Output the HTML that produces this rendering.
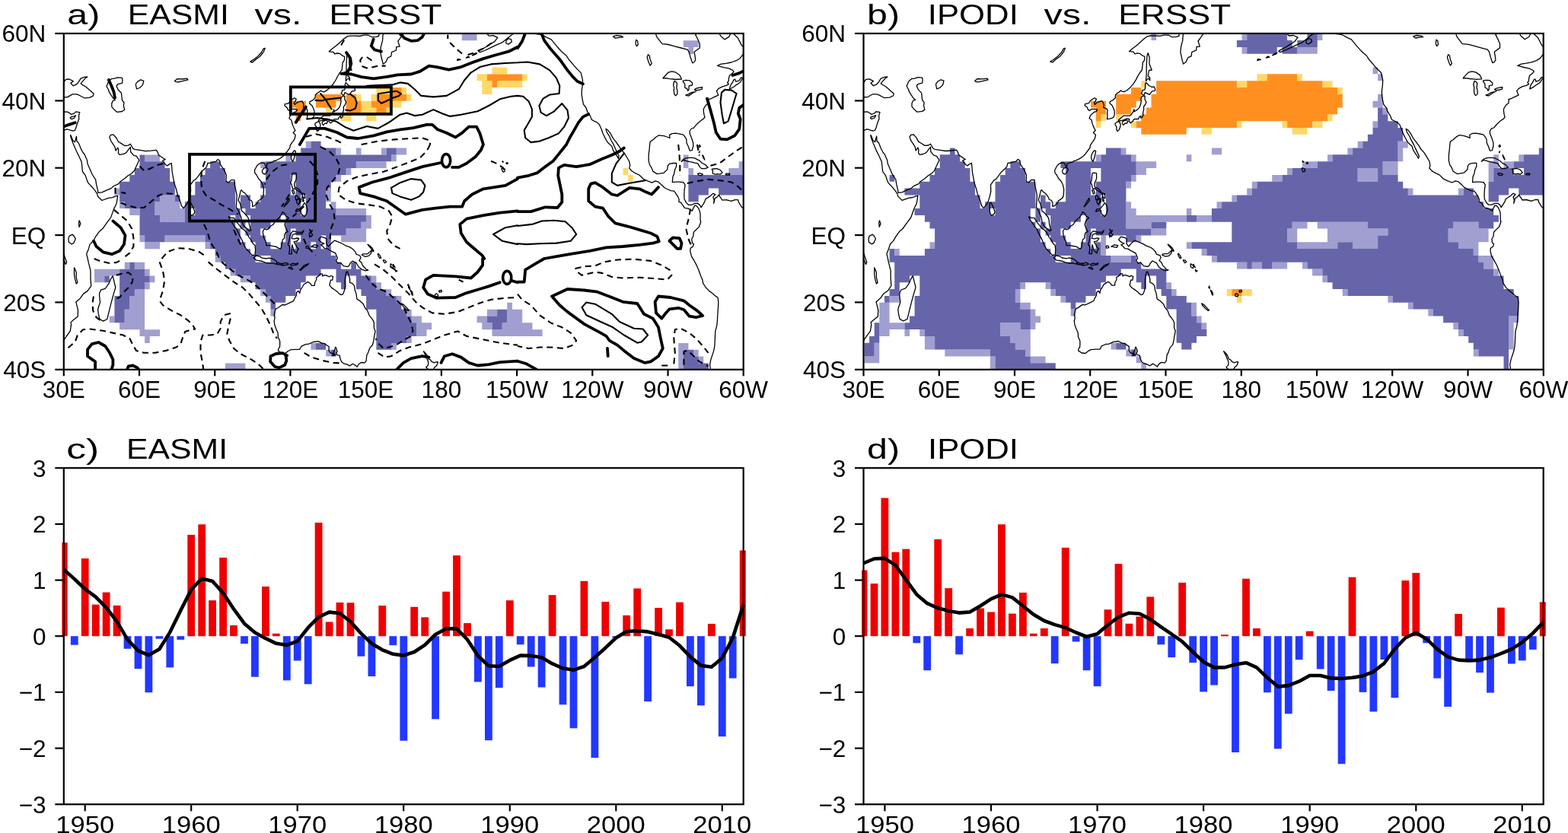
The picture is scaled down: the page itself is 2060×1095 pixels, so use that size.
<!DOCTYPE html>
<html><head><meta charset="utf-8"><title>EASMI IPODI ERSST</title><style>html,body{margin:0;padding:0;background:#fff;overflow:hidden}svg{display:block}</style></head><body>
<svg xmlns="http://www.w3.org/2000/svg" width="2060" height="1095" viewBox="0 0 2060 1095" font-family='"Liberation Sans", "DejaVu Sans", sans-serif'>
<rect width="2060" height="1095" fill="#fff"/>
<clipPath id="clipa"><rect x="83.8" y="44" width="892.9" height="441.8"/></clipPath>
<g clip-path="url(#clipa)">
<path d="M295.9 477.4H322.4V486.2H295.9ZM891.2 477.4H897.8V486.2H891.2ZM891.2 468.5H897.8V477.4H891.2ZM917.7 468.5H924.3V477.4H917.7ZM428.2 459.7H434.8V468.5H428.2ZM891.2 459.7H897.8V468.5H891.2ZM911 459.7H917.7V468.5H911ZM408.4 450.9H415V459.7H408.4ZM514.2 450.9H520.8V459.7H514.2ZM891.2 450.9H904.4V459.7H891.2ZM190.1 442H196.7V450.9H190.1ZM534.1 442H540.7V450.9H534.1ZM183.5 433.2H210V442H183.5ZM547.3 433.2H560.5V442H547.3ZM646.5 433.2H712.6V442H646.5ZM157.1 424.3H190.1V433.2H157.1ZM547.3 424.3H567.1V433.2H547.3ZM633.3 424.3H646.5V433.2H633.3ZM659.7 424.3H699.4V433.2H659.7ZM143.8 415.5H150.4V424.3H143.8ZM163.7 415.5H190.1V424.3H163.7ZM540.7 415.5H553.9V424.3H540.7ZM626.6 415.5H639.9V424.3H626.6ZM666.3 415.5H686.2V424.3H666.3ZM163.7 406.7H190.1V415.5H163.7ZM355.5 406.7H362.1V415.5H355.5ZM534.1 406.7H540.7V415.5H534.1ZM639.9 406.7H653.1V415.5H639.9ZM666.3 406.7H686.2V415.5H666.3ZM170.3 397.8H190.1V406.7H170.3ZM666.3 397.8H672.9V406.7H666.3ZM170.3 389H190.1V397.8H170.3ZM348.9 389H355.5V397.8H348.9ZM520.8 389H527.4V397.8H520.8ZM176.9 380.2H190.1V389H176.9ZM342.2 380.2H348.9V389H342.2ZM507.6 380.2H514.2V389H507.6ZM190.1 371.3H196.7V380.2H190.1ZM494.4 371.3H501V380.2H494.4ZM124 362.5H137.2V371.3H124ZM196.7 362.5H203.4V371.3H196.7ZM315.8 362.5H329V371.3H315.8ZM487.8 362.5H494.4V371.3H487.8ZM124 353.7H157.1V362.5H124ZM190.1 353.7H196.7V362.5H190.1ZM302.6 353.7H309.2V362.5H302.6ZM163.7 344.8H170.3V353.7H163.7ZM176.9 344.8H190.1V353.7H176.9ZM282.7 336H289.3V344.8H282.7ZM190.1 318.3H210V327.2H190.1ZM269.5 318.3H276.1V327.2H269.5ZM183.5 309.5H190.1V318.3H183.5ZM216.6 309.5H269.5V318.3H216.6ZM448.1 309.5H481.1V318.3H448.1ZM454.7 300.6H481.1V309.5H454.7ZM474.5 291.8H487.8V300.6H474.5ZM210 283H243V291.8H210ZM481.1 283H487.8V291.8H481.1ZM170.3 274.1H183.5V283H170.3ZM203.4 274.1H243V283H203.4ZM441.5 274.1H481.1V283H441.5ZM157.1 265.3H163.7V274.1H157.1ZM203.4 265.3H236.4V274.1H203.4ZM434.8 265.3H441.5V274.1H434.8ZM210 256.5H229.8V265.3H210ZM428.2 256.5H434.8V265.3H428.2ZM150.4 247.6H157.1V256.5H150.4ZM428.2 247.6H434.8V256.5H428.2ZM441.5 230H448.1V238.8H441.5ZM454.7 221.1H461.3V230H454.7ZM904.4 221.1H911V230H904.4ZM957.3 221.1H977.2V230H957.3ZM342.2 212.3H348.9V221.1H342.2ZM467.9 212.3H507.6V221.1H467.9ZM897.8 212.3H904.4V221.1H897.8ZM970.6 212.3H977.2V221.1H970.6ZM190.1 203.4H210V212.3H190.1ZM375.3 203.4H381.9V212.3H375.3ZM514.2 203.4H520.8V212.3H514.2ZM897.8 203.4H904.4V212.3H897.8ZM441.5 194.6H448.1V203.4H441.5ZM467.9 194.6H474.5V203.4H467.9ZM501 194.6H507.6V203.4H501ZM520.8 194.6H534.1V203.4H520.8ZM401.8 185.8H408.4V194.6H401.8ZM904.4 62.1H911V70.9H904.4ZM897.8 53.2H917.7V62.1H897.8ZM606.8 44.4H626.6V53.2H606.8Z" fill="#a09fd0"/>
<path d="M897.8 477.4H930.9V486.2H897.8ZM897.8 468.5H917.7V477.4H897.8ZM434.8 459.7H441.5V468.5H434.8ZM897.8 459.7H911V468.5H897.8ZM415 450.9H428.2V459.7H415ZM494.4 450.9H514.2V459.7H494.4ZM494.4 442H534.1V450.9H494.4ZM494.4 433.2H547.3V442H494.4ZM494.4 424.3H547.3V433.2H494.4ZM646.5 424.3H659.7V433.2H646.5ZM150.4 415.5H163.7V424.3H150.4ZM494.4 415.5H540.7V424.3H494.4ZM639.9 415.5H666.3V424.3H639.9ZM150.4 406.7H163.7V415.5H150.4ZM494.4 406.7H534.1V415.5H494.4ZM653.1 406.7H666.3V415.5H653.1ZM150.4 397.8H170.3V406.7H150.4ZM355.5 397.8H362.1V406.7H355.5ZM481.1 397.8H527.4V406.7H481.1ZM150.4 389H170.3V397.8H150.4ZM355.5 389H375.3V397.8H355.5ZM481.1 389H520.8V397.8H481.1ZM157.1 380.2H176.9V389H157.1ZM348.9 380.2H388.5V389H348.9ZM474.5 380.2H507.6V389H474.5ZM157.1 371.3H190.1V380.2H157.1ZM335.6 371.3H395.2V380.2H335.6ZM448.1 371.3H454.7V380.2H448.1ZM467.9 371.3H494.4V380.2H467.9ZM137.2 362.5H143.8V371.3H137.2ZM157.1 362.5H196.7V371.3H157.1ZM329 362.5H401.8V371.3H329ZM441.5 362.5H454.7V371.3H441.5ZM467.9 362.5H487.8V371.3H467.9ZM157.1 353.7H190.1V362.5H157.1ZM309.2 353.7H421.6V362.5H309.2ZM441.5 353.7H474.5V362.5H441.5ZM170.3 344.8H176.9V353.7H170.3ZM295.9 344.8H448.1V353.7H295.9ZM461.3 344.8H467.9V353.7H461.3ZM289.3 336H335.6V344.8H289.3ZM355.5 336H441.5V344.8H355.5ZM282.7 327.2H329V336H282.7ZM335.6 327.2H434.8V336H335.6ZM276.1 318.3H322.4V327.2H276.1ZM335.6 318.3H355.5V327.2H335.6ZM368.7 318.3H381.9V327.2H368.7ZM388.5 318.3H408.4V327.2H388.5ZM415 318.3H421.6V327.2H415ZM428.2 318.3H434.8V327.2H428.2ZM190.1 309.5H216.6V318.3H190.1ZM269.5 309.5H315.8V318.3H269.5ZM329 309.5H348.9V318.3H329ZM375.3 309.5H381.9V318.3H375.3ZM395.2 309.5H421.6V318.3H395.2ZM428.2 309.5H434.8V318.3H428.2ZM183.5 300.6H315.8V309.5H183.5ZM322.4 300.6H342.2V309.5H322.4ZM375.3 300.6H381.9V309.5H375.3ZM388.5 300.6H454.7V309.5H388.5ZM183.5 291.8H309.2V300.6H183.5ZM315.8 291.8H322.4V300.6H315.8ZM329 291.8H355.5V300.6H329ZM375.3 291.8H474.5V300.6H375.3ZM183.5 283H210V291.8H183.5ZM243 283H302.6V291.8H243ZM309.2 283H315.8V291.8H309.2ZM329 283H368.7V291.8H329ZM375.3 283H481.1V291.8H375.3ZM183.5 274.1H203.4V283H183.5ZM243 274.1H249.6V283H243ZM256.3 274.1H315.8V283H256.3ZM322.4 274.1H395.2V283H322.4ZM401.8 274.1H441.5V283H401.8ZM163.7 265.3H203.4V274.1H163.7ZM243 265.3H309.2V274.1H243ZM315.8 265.3H329V274.1H315.8ZM335.6 265.3H395.2V274.1H335.6ZM401.8 265.3H428.2V274.1H401.8ZM157.1 256.5H210V265.3H157.1ZM229.8 256.5H236.4V265.3H229.8ZM249.6 256.5H309.2V265.3H249.6ZM315.8 256.5H329V265.3H315.8ZM342.2 256.5H395.2V265.3H342.2ZM401.8 256.5H428.2V265.3H401.8ZM904.4 256.5H917.7V265.3H904.4ZM157.1 247.6H229.8V256.5H157.1ZM256.3 247.6H309.2V256.5H256.3ZM348.9 247.6H381.9V256.5H348.9ZM388.5 247.6H428.2V256.5H388.5ZM904.4 247.6H930.9V256.5H904.4ZM944.1 247.6H977.2V256.5H944.1ZM157.1 238.8H229.8V247.6H157.1ZM256.3 238.8H309.2V247.6H256.3ZM342.2 238.8H381.9V247.6H342.2ZM388.5 238.8H434.8V247.6H388.5ZM904.4 238.8H977.2V247.6H904.4ZM170.3 230H223.2V238.8H170.3ZM262.9 230H295.9V238.8H262.9ZM348.9 230H381.9V238.8H348.9ZM388.5 230H441.5V238.8H388.5ZM904.4 230H977.2V238.8H904.4ZM176.9 221.1H223.2V230H176.9ZM269.5 221.1H295.9V230H269.5ZM348.9 221.1H454.7V230H348.9ZM183.5 212.3H216.6V221.1H183.5ZM276.1 212.3H289.3V221.1H276.1ZM348.9 212.3H467.9V221.1H348.9ZM183.5 203.4H190.1V212.3H183.5ZM388.5 203.4H514.2V212.3H388.5ZM395.2 194.6H441.5V203.4H395.2ZM507.6 194.6H520.8V203.4H507.6ZM408.4 185.8H421.6V194.6H408.4Z" fill="#6665aa"/>
<path d="M825.1 230H831.7V238.8H825.1ZM818.5 221.1H825.1V230H818.5ZM448.1 150.4H461.3V159.3H448.1ZM481.1 150.4H494.4V159.3H481.1ZM428.2 141.6H434.8V150.4H428.2ZM474.5 141.6H494.4V150.4H474.5ZM507.6 141.6H514.2V150.4H507.6ZM474.5 132.8H487.8V141.6H474.5ZM514.2 132.8H527.4V141.6H514.2ZM467.9 123.9H474.5V132.8H467.9ZM487.8 123.9H494.4V132.8H487.8ZM534.1 123.9H540.7V132.8H534.1ZM494.4 115.1H514.2V123.9H494.4ZM527.4 115.1H534.1V123.9H527.4ZM633.3 115.1H646.5V123.9H633.3ZM633.3 106.3H646.5V115.1H633.3ZM653.1 106.3H686.2V115.1H653.1ZM626.6 97.4H639.9V106.3H626.6ZM686.2 97.4H692.8V106.3H686.2ZM646.5 88.6H666.3V97.4H646.5Z" fill="#ffd866"/>
<path d="M388.5 150.4H395.2V159.3H388.5ZM388.5 141.6H401.8V150.4H388.5ZM454.7 141.6H474.5V150.4H454.7ZM494.4 141.6H507.6V150.4H494.4ZM381.9 132.8H401.8V141.6H381.9ZM415 132.8H441.5V141.6H415ZM454.7 132.8H474.5V141.6H454.7ZM487.8 132.8H514.2V141.6H487.8ZM415 123.9H448.1V132.8H415ZM454.7 123.9H467.9V132.8H454.7ZM494.4 123.9H534.1V132.8H494.4ZM514.2 115.1H527.4V123.9H514.2ZM646.5 106.3H653.1V115.1H646.5ZM639.9 97.4H686.2V106.3H639.9Z" fill="#ff9020"/>
<path d="M81 147.8L86.3 146.9L89.3 147.3L91.9 149.1L93.6 150.4L97.5 149.1L99.5 146.9L102.8 147.3L104.8 147.8L103.8 150.4L103.5 153.1L103.8 156.2L102.5 159.7L101.2 163.2L100.5 165.5L99.8 168.1L98.5 171.2L95.9 172.1L91.9 171.2L90.3 170.3L87.6 169.9L84.3 171.2L81 173M91.9 154.8L93.9 156.6L97.5 155.3L99.5 151.8L96.2 153.1L93.9 153.5L91.9 154.8M77.7 127.5L81.3 127.5L88.3 127.9L95.2 123.9L100.8 123.9L104.1 125.2L110.8 128.8L117.4 128.3L122.3 126.1L123 123L118.4 119.1L112.4 113.8L108.4 111.6L106.1 109.8L109.1 106.3L111.4 103.6L114.7 101L110.8 101.4L106.1 103.2L102.5 108.9L100.8 110.7L96.2 112.9L92.9 109.3L96.2 106.7L90.9 104L86.3 104.5L83.3 109.3L79.7 113.8L77.7 117.7L77.7 127.5M142.2 107.6L146.5 103.6L150.4 103.2L154.7 101.8L160.4 102.3L161 105.4L160.4 109.3L154.7 110.7L153.1 113.3L155.1 117.7L159.4 122.2L160 127L160.4 131.4L163 135L162.3 138.9L163.7 144.2L160.4 146.5L153.7 147.3L150.1 144.2L146.8 140.3L146.8 135.9L148.5 132.3L151.4 131.4L148.8 129.2L145.8 124.8L143.2 120.4L142.2 117.3L139.9 113.3L141.2 110.7L142.2 107.6M178.2 110.7L180.9 107.1L184.8 104.9L188.8 106.3L187.5 111.6L183.5 115.5L179.5 116.9L178.2 110.7M229.1 106.7L233.1 103.6L239.7 104L245.7 103.2L247 104.9L239.7 106.7L233.1 108L229.1 106.7M328.4 81.1L331.7 82L335.6 78.4L341.6 74L346.2 68.3L348.2 63.4L346.2 63.8L343.6 68.7L338.3 74.4L332.3 78.9L328.4 81.1M82.6 449.1L87.3 442L92.2 435.4L93.6 426.6L92.9 423.9L96.2 420.8L102.2 416L102.5 407.6L101.2 402.3L99.8 397L105.8 391.7L109.4 386.4L115.1 382.4L119.7 375.8L119 365.6L119 355.9L116.4 345.7L115.1 339.5L113.7 333.8L116.4 327.2L118 321.4L122.7 316.5L125.6 311.2L130.6 304.2L134.9 300.6L140.5 292.7L145.5 286.1L149.8 274.1L153.1 267.5L154.7 257.3L151.4 258.2L147.8 259.6L142.2 260.4L133.9 263.5L128.6 258.2L127.6 254.7L125.3 251.2L121.7 246.7L116.7 241.4L115.1 239.2L112.1 230.4L108.4 225.5L107.8 218.9L107.1 212.7L103.1 203.9L100.8 199.5L98.5 194.2L96.2 188.9L92.9 180L92.6 177.4L93.9 180L95.9 184.9L98.5 186.7L99.2 183.6L100.5 179.1L100.8 185.3L103.5 188.4L106.1 195.1L109.1 200.8L111.1 203L114.4 210.5L115.1 215.4L118.4 222.9L121.3 229.5L125.6 236.1L126.6 242.3L128.3 249.4L128.9 253.4L133.9 252.9L140.5 249.8L146.1 247.6L149.4 244.5L155.4 241.9L158 238.8L163.7 234.8L168.3 230.8L172.6 228.2L176.2 224.7L178.9 218.9L182.8 210.5L179.2 205.2L175.6 204.3L171.6 199.5L171.3 193.3L168.6 196.8L165.7 200.8L161.7 202.6L157.1 203.4L155.4 201.2L155.7 196.8L154.7 194.2L153.1 196.4L152.1 198.1L150.8 192.8L148.8 189.8L145.8 185.3L143.8 180L145.5 177.4L148.8 176.9L151.8 180L153.4 182.2L155.4 186.2L159 188.4L163.7 191.5L168.6 191.1L171.3 189.3L174.6 195.1L176.9 196.4L185.5 197.7L191.1 198.6L198.4 198.1L205.3 197.3L207.3 200.4L208.3 203.9L211.3 205.7L214.9 208.3L217.2 209.6L213.6 211L215.9 214.9L219.6 218L223.2 215.4L225.2 214.5L225.8 220.2L226.2 226L227.8 234.8L229.1 241.4L231.5 248.5L232.8 254.3L234.8 259.6L237.1 265.7L238.4 270.6L241.4 273.7L243.7 270.2L246 267.5L247.3 264L249 258.7L250.6 251.6L250.3 243.2L253 239.2L254.6 237L257.3 235.7L260.6 231.3L264.5 226L268.8 222L271.5 219.4L272.8 214.5L276.8 214.1L279.4 213.2L283.7 212.3L286 209.6L288.7 211L289.3 215.8L291.6 219.4L294.6 223.8L297.3 230L296.9 238.4L300.2 240.1L303.6 236.6L307.9 236.6L308.5 243.7L309.8 249.8L311.2 256.5L310.8 265.3L310.2 272.8L311.8 274.1L314.5 280.3L316.8 285.6L317.8 291.8L320.1 296.7L323.4 299.8L327.7 303.7L329.7 302.9L327.4 294.9L327 289.6L326 286.1L323.1 282.5L320.1 279L317.8 277.7L316.8 272.8L315.5 267.5L313.1 263.1L314.5 257.8L315.5 253.8L316.1 250.7L317.4 249.8L318.8 252L321.1 253.4L323.4 255.6L325.4 258.2L327.4 262.6L330.3 263.5L331.7 267.1L331.7 271.5L333.3 271L337.9 267.5L339.3 264L342.2 262.2L345.2 259.6L346.2 255.6L346.5 248.5L344.9 242.3L342.9 238.4L339.6 234.8L337 230L334.6 226.9L334.6 223.3L336.6 219.8L337.9 217.6L340.3 215.4L342.2 214.5L344.9 214.1L347.5 214.5L348.2 216.7L349.5 219.8L350.5 218.5L350.5 215.4L353.8 214.1L357.5 213.2L360.1 211.4L362.7 211L367 208.7L371 206.1L374 203.4L375.6 201.2L378 198.1L380.6 194.6L381.3 191.1L382.6 188.9L384.9 185.8L387.2 182.2L388.2 177.4L386.2 175.6L385.2 174.3L387.9 171.6L386.6 169L384.9 165.5L383.6 161.5L382.9 157.9L379.9 155.7L381.3 152.2L383.3 150L385.9 147.8L389.2 146.5L390.5 144.2L386.6 143.4L382.9 143.4L380.3 145.6L378.3 144.2L377 141.2L374 138.9L374.3 136.7L377 136.3L379.6 135.4L380.9 132.8L384.6 130.1L386.9 128.8L389.2 130.1L387.9 133.2L386.2 135.4L387.2 137.6L389.5 135.4L391.9 134.1L396.5 132.8L397.8 134.5L399.1 138.1L398.5 141.2L401.1 142.5L403.4 143.4L403.8 146L403.4 149.5L403.8 153.5L403.1 156.6L406.4 156.2L410 155.3L412 154L413 150.4L413 146L411.7 142.5L410 138.9L406.7 135.9L407.1 133.6L410.7 131.9L414 128.8L414.3 124.8L417 122.2L419 121.3L421.3 119.1L423.3 120.4L425.6 120.8L428.9 119.1L433.2 115.5L437.5 110.7L441.5 104.5L443.4 100.5L446.1 96.1L449.1 92.1L449.7 87.3L450.1 82.4L452.4 78.9L452.7 74.4L449.7 73.1L446.4 70.5L443.1 70L439.5 70.9L438.1 68.3L432.2 67.8L436.8 63.8L441.5 60.3L447.4 55L452.4 50.6L456.3 47.9L460 47.1L466.3 47.1L472.9 47.5L477.8 46.2L483.8 46.2L488.7 48.8L494.4 48.4L497.7 47.5L498 43.5L502.6 39.1M507.6 35.6L505 42.2L503 46.2L502.6 53.2L501.6 56.8L500.3 62.1L499.7 68.7L501.6 77.5L503.3 84.2L506.9 81.5L509.6 75.8L513.9 74L514.5 68.7L520.5 66L520.8 61.6L525.1 61.2L522.8 54.1L525.5 50.6L529.1 45.3L532.4 43.5L535 42.2L547.3 44.4L553.9 40M457 69.6L455.7 74L455.3 80.6L455 88.6L455 97.4L454.4 104L454.4 106.7L456.3 104L458 103.2L459.6 105.8L459.3 101.8L457 100.1L458.3 92.6L462 92.1L458.7 84.2L459 75.8L457 69.6M454.4 108.5L453.4 110.7L453.4 115.1L452.7 118.2L449.7 118.6L449.1 121.3L448.1 122.6L450.4 124.8L452 124.8L453 121.7L456 123L459 124.4L462.3 119.9L465.6 119.5L466.6 118.2L465.3 114.2L462 114.6L458 112.4L454.7 108.9L454.4 108.5M451 126.1L453 126.6L452.7 130.1L454.7 134.5L453.4 137.6L451.4 140.3L451.4 144.7L450.4 148.2L450.7 151.8L449.4 154.4L447.7 155.3L447.4 152.6L445.4 154L444.4 156.6L442.1 156.6L439.1 156.6L437.8 157.9L436.8 159.7L434.2 161.9L431.9 159.3L432.5 156.6L428.9 156.2L425.9 157.5L422.6 158.4L418.3 159.3L418.6 157.5L421.9 154.8L424.9 152.2L429.6 152.2L433.5 152.2L434.8 150.9L437.5 146.9L438.8 143.8L438.8 146.9L443.1 144.2L445.8 141.2L447.4 137.2L448.1 132.8L447.7 129.7L449.1 127L451 126.1M422.9 161.9L424.6 164.6L427.2 161.9L429.2 162.4L430.5 159.7L428.9 157.9L425.9 158.8L423.9 159.7L422.9 161.9M414.3 161.9L418 159.7L420 161L421 164.6L420 168.5L418.3 171.6L416.7 172.5L415.7 169.9L415.7 166.8L414.3 165L413.7 162.8L414.3 161.9M382.3 207.9L383.9 211.8L384.9 212.3L386.6 207.4L387.9 201.7L388.5 199L386.9 197.7L384.9 199.9L382.9 203.4L382.3 207.9M344.2 224.7L345.2 227.7L347.5 229.1L350.2 227.3L352.2 222.9L351.2 220.7L348.5 220.7L346.5 221.1L344.2 224.7M249.3 266.6L250.6 266.2L252.6 270.2L254.3 273.7L255.9 278.6L254.9 281.2L251.6 283.4L250 281.6L249 277.2L249 271.9L249.3 266.6M148.1 362.5L150.1 370.9L151.8 378L149.8 384.6L148.5 389L145.8 399.2L143.5 408.4L140.8 419.5L135.6 422.1L130.9 419.5L129.3 412.4L128.6 406.7L129.9 402.3L131.6 397.4L130.6 389L130.6 385.5L132.6 381.1L138.2 379.3L141.5 374.9L143.5 371.8L144.8 368.2L148.1 362.5M300.2 284.7L303.9 286.5L307.5 286.5L311.5 292.7L314.5 296.2L317.4 300.2L320.4 302L324.1 305.9L327 311.7L330.3 316.1L332 319.6L335 322.7L335.6 328.5L335 335.1L331 335.5L327.4 331.1L323.4 327.2L320.1 321.4L317.8 315.2L314.8 309.5L312.8 305.5L311.2 301.5L308.2 298L305.5 293.6L302.6 290L300.2 284.7M333 339.5L336 336L340.9 336.9L344.2 339.1L350.2 340L352.8 339.1L357.5 340L360.4 341.3L363.4 343.5L363.4 347.5L359.4 346.1L353.8 346.1L348.9 345.3L344.6 343.5L340.3 342.6L337 342.2L333.6 339.5L333 339.5M363.7 345.3L366.1 345.3L367.7 346.6L366.1 348.4L364.1 346.6L363.7 345.3M368.4 346.6L370.7 346.1L370.7 348.8L368.7 348.4L368.4 346.6M371.3 347L374.7 345.3L378 346.1L379 347.5L375.3 348.4L372.3 349.2L371.3 347M381.3 347.5L384.6 346.1L388.5 347L391.5 345.7L390.9 347.9L385.2 348.8L381.6 348.4L381.3 347.5M378.6 351.9L382.6 351L384.6 354.1L381.3 353.2L378.6 351.9M393.5 355L396.8 351.9L399.1 349.2L405.7 346.6L403.4 348.8L398.5 351.9L395.2 355.4L393.5 355M347.5 300.6L349.9 302L352.8 301.1L354.2 298L358.8 295.3L362.1 290L365.4 287.4L367 286.1L369 283L371.3 278.6L374 280.8L375.6 283.9L379.3 286.5L376.3 289.2L375 291.4L374 295.3L375.3 299.3L378 304.6L375 305.9L373.7 309.5L373.7 313L371.3 315.2L370.4 319.6L369.7 324.9L368.4 327.2L364.1 325.4L363.7 324.5L358.8 323.6L354.5 322.7L349.9 322.7L349.2 317.4L346.9 313.5L345.9 309.5L345.2 304.2L347.5 300.6M379.6 333.8L380.6 327.2L380.3 324.1L378.3 321.4L379.9 316.5L381.3 309.5L382.3 306.8L384.9 303.7L390.2 305.1L396.5 305.5L399.1 302.9L396.8 307.7L392.2 307.3L387.2 307.3L383.9 309L383.3 313.5L386.9 313.9L390.2 313L392.8 313.5L390.2 317L386.2 317.9L388.9 322.3L389.9 324.9L392.2 327.2L390.5 329.8L389.9 332.9L386.2 329.8L385.2 326.7L383.9 321.9L383.3 325.4L383.3 333.8L379.6 333.8M406.4 301.1L408.4 303.7L410.4 302.9L408.4 306.8L411 308.2L409 311.2L407.7 309.5L406.7 312.1L406.1 307.3L408.1 304.6L406.4 301.1M408.4 324.5L412.7 321.9L417.6 322.7L416 325.4L411 324.5L408.4 324.5M401.8 323.6L404.7 323.2L405.7 325.8L402.4 326.3L401.8 323.6M418.3 315.2L421.6 311.2L426.6 312.6L428.9 313.9L428.9 320.5L431.5 324.1L435.8 319.2L439.8 316.1L444.1 317.9L450.1 320.5L454.7 323.2L459.6 324.9L463.3 327.2L467.3 331.6L467.9 334.2L472.9 336L473.9 339.1L471.9 342.6L474.9 345.3L476.5 349.2L478.8 351.5L481.1 354.1L483.8 355L480.1 355.9L475.2 354.1L471.2 351L468.2 345.7L463 343.1L460 346.1L458.7 349.2L456.7 350.6L451.4 349.7L447.4 345.3L443.8 346.1L441.5 342.6L443.4 339.5L440.8 332.9L434.8 329.8L430.9 327.2L426.6 326.7L424.3 324.1L421.6 321.9L425.9 320.1L422.3 318.8L419.3 316.1L418.3 315.2M475.5 334.2L479.5 333.8L482.8 333.8L486.1 331.1L488.4 328.5L487.4 333.3L484.4 336.4L480.1 337.3L475.8 335.5L475.5 334.2M482.8 321L486.4 323.6L489.1 326.3L491.1 329.8L490.1 330.7L487.8 327.2L484.4 323.2L482.8 321M496.4 332.9L499 335.5L500.7 339.1L498.7 339.5L496.7 335.5L496.4 332.9M503 341.7L505.9 342.2L507.6 344.4L505.3 345.7L503 341.7M512.9 346.6L516.9 349.7L516.2 352.8L513.2 351L512.9 346.6M516.5 347L519.2 351.9L517.2 349.7L516.5 347M518.8 354.5L521.8 356.3L520.2 357.2L518.8 354.5M537.4 375.8L538.4 379.3L536.7 378.4L537.4 375.8M539 381.1L541.7 383.7L542.3 388.1L541.3 387.7L539 381.1M527.4 398.7L530.7 400.9L534.1 404.5L537.4 408L535.7 408.4L531.7 404.9L528.4 401.4L527.4 398.7M571.4 386.8L573.7 385.9L575.7 388.1L574.7 389.9L571.8 389.4L571.4 386.8M576.7 381.9L580 381.5L580.4 383.7L577 384.1L576.7 381.9M456.3 356.8L458 361.6L459.6 366.5L459.6 371.3L463 372.7L465.6 375.8L466.3 381.5L467.9 385.9L468.9 393L472.9 395.6L477.2 399.6L479.5 404.5L482.8 408.4L485.1 414.6L489.4 419.9L491.4 423.9L491.4 431L493 435.4L491.7 442L490.7 448.6L489.4 453.5L486.1 457L485.1 459.3L483.8 463.2L481.8 467.2L481.1 474.3L479.2 476.9L474.5 476.5L471.2 478.7L469.2 482.2L465.9 479.6L463.3 478.2L459.6 480.9L456 479.1L451.4 477.8L448.7 475.6L447.1 472.1L446.1 467.2L443.1 466.8L441.8 464.1L443.1 461.9L441.8 457.9L440.8 456.2L439.8 459.3L437.8 464.1L440.8 466.8L436.8 467.6L438.1 465L434.8 464.1L433.5 463.2L431.9 460.6L432.2 455.7L428.9 453.5L426.2 451.7L422.3 450.9L418.3 448.6L411.7 449.5L405.7 452.2L401.4 452.6L395.8 455.3L393.8 459.3L388.5 459.3L381.9 459.7L378.6 461.5L374.7 464.6L370 464.1L365.4 461L366.1 457.9L367.4 456.6L367.7 453.1L367.7 448.6L365.4 442.9L365.1 437.6L362.7 432.3L360.8 427L360.1 422.1L361.1 417.7L360.1 414.2L361.4 408L362.7 405.8L365.4 404.5L371 400.5L374.3 400.9L378.3 399.2L381.9 397.4L385.6 395.6L387.6 391.2L389.2 388.6L389.5 384.6L391.9 382.4L393.8 385.5L394.5 381.5L396.8 378L399.1 374L401.8 372.2L404.7 370.4L407.7 372.7L409.4 375.3L413.3 375.3L413.7 371.3L415.7 367.8L415.7 364.7L418 363.4L421.3 359.8L423.6 360.3L423.6 362.9L426.6 361.6L429.9 362.5L432.9 363.8L434.8 362.5L437.5 363.4L436.8 368.2L434.5 368.2L432.9 374.9L435.8 378.4L440.5 381.5L443.8 384.1L445.8 386.4L448.7 387.7L450.7 386.4L452.4 381.9L453.4 375.8L453 369.1L453.7 364.3L454.7 358.1L456.3 356.8M556.2 461.5L558.9 464.1L561.5 467.6L563.2 472.1L565.5 472.9L566.8 475.2L570.4 476.9L573.7 475.6L575.4 476L573.7 480.5L571.1 482.7L570.1 484.4L567.8 488.4L564.5 493.3L562.8 491.9L564.5 488.9L562.2 485.3L559.8 482.7L562.5 480L562.8 475.6L561.5 472.9L559.2 467.2L556.2 461.5M556.2 488.4L559.8 490.2L561.5 492.8L560.5 496.4L555.5 503L550.6 499.5L552.2 494.2L554.2 490.2L556.2 488.4M383.9 227.7L385.9 227.3L389.2 227.7L389.5 233.9L388.5 237.5L387.2 239.7L386.6 243.2L387.6 246.7L389.5 246.7L392.2 248.5L395.2 252L395.5 253.8L392.8 252L390.5 250.3L387.6 248.1L384.9 248.5L383.9 246.3L383.3 243.2L381.6 239.7L382.9 237.5L383.3 232.2L383.9 227.7M383.3 249.8L385.9 250.3L386.9 254.3L385.2 255.1L383.3 249.8M388.5 256.5L391.9 258.7L390.9 262.6L388.5 262.6L388.2 258.7L388.5 256.5M389.9 262.2L392.5 261.3L393.8 264.9L391.9 269.3L389.9 266.2L389.9 262.2M393.2 260.4L395.2 261.8L395.2 265.3L393.5 267.5L393.2 260.4M396.2 253.8L400.1 254.7L400.8 260.4L398.5 260L396.2 253.8M396.5 258.7L398.5 259.6L399.1 264.9L397.8 264.9L396.5 258.7M372.7 272.4L377 268L380.3 263.5L379.6 260.4L376 266.2L372.7 272.4M388.2 278.6L389.5 275L393.2 275L395.2 273.3L397.8 270.2L400.1 266.6L402.8 270.2L403.8 276.3L402.4 281.6L399.8 284.7L395.5 280.8L395.2 276.8L391.2 277.2L388.2 278.6M682.9 40L682.9 41.7L689.5 43.5L696.1 43.1L702.7 44.4L709.3 45.3L713.6 46.6L719.2 49.7L724.2 51.9L727.5 55.9L731.8 61.2L735.4 65.2L739.1 69.1L744 73.1L747.4 78.4L751.7 83.3L755 87.3L759.6 92.1L763.2 95.6L765.5 105.4L765.2 112.4L764.2 119.5L764.2 124.4L765.2 131L766.5 137.2L770.2 142L771.5 146.5L772.5 147.8L775.8 153.1L777.1 157.1L780.8 159.3L784.1 160.6L787.4 163.7L788.4 165.9L790.3 170.3L792 175.2L795 181.4L798 186.7L800.6 189.3L803.9 192.4L805.6 197.7L808.2 201.7L811.2 206.1L812.2 208.3L813.2 205.2L811.2 201.2L808.5 195.5L806.2 190.2L802.9 184.5L800.6 179.1L797 173.4L796 169.4L798.3 170.8L801.9 175.2L805.2 181.4L808.9 186.2L812.8 191.5L815.8 196.4L820.1 201.2L823.7 207L826.7 212.3L827.7 217.6L826.7 221.1L830 224.7L834 227.3L839.9 230L845.2 235.3L850.9 237.9L856.5 240.1L860.8 237.9L864.4 238.8L869.4 243.2L873 246.7L876.3 248.5L881.3 250.7L885.6 251.2L887.9 254.3L891.2 259.6L892.2 262.6L891.9 265.3L894.5 266.2L897.8 271L899.5 273.3L904.1 274.1L909.4 277.2L910.4 274.6L912.7 270.2L915 270.6L917.3 273.3L919 276.8L920 280.8L920 287.4L920.6 292.2L918.3 298.4L915 301.5L911.4 305.1L910.7 310.8L908.7 314.3L909.4 319.2L911.4 321L910.4 324.1L907.1 326.3L906.8 330.2L907.7 333.8L908.4 336.9L911.4 341.7L915 348.4L917.7 354.5L920.6 362.5L923 368.2L923.6 372.2L926.9 377.5L931.6 382.4L935.9 385.5L939.2 388.6L943.1 391.2L943.8 397.8L943.5 404.5L942.8 413.7L942.5 419.9L941.8 427.9L939.8 435.4L939.5 442L939.2 448.6L938.8 455.3L937.8 460.6L936.2 465.9L934.5 470.7L933.5 474.3L932.5 479.6L933.2 484L932.5 490.6M980.5 278.6L973.9 271.5L970.6 266.2L969.6 262.6L965.6 262.6L960.7 264.4L954 262.6L949.1 263.1L945.8 258.7L944.5 256L942.5 258.7L939.2 260.9L938.5 264.4L937.5 267.5L938.2 263.1L936.8 259.1L939.8 255.6L936.8 254.3L933.5 257.3L930.2 259.6L926.9 261.8L925.9 264.9L923.6 268.8L921 272.8L920 270.2L917 267.5L912.7 267.5L908.4 269.3L904.4 269.3L901.8 266.6L899.1 261.8L898.8 256.5L899.1 249.8L900.1 243.2L897.8 239.7L892.9 239.2L887.9 239.2L883.3 239.7L883.6 236.6L883.9 232.2L885.6 228.6L886.6 223.3L888.6 218.5L888.6 214.5L884.6 214.5L879.3 215.4L877.3 218L876.7 222.9L872 227.3L866.4 228.2L863.1 228.6L857.8 225.1L855.8 220.2L853.5 216.7L852.2 211.4L852.2 203.4L853.2 195.5L853.5 191.1L854.2 186.2L858.1 183.6L862.1 180L865.7 177.8L869.7 178.3L872.4 178.7L876.3 180L880 181.4L879.6 177.4L882.9 175.6L887.9 175.2L892.9 176.1L897.2 176.9L899.1 178.7L901.8 183.1L902.1 188L904.4 192.8L906.1 198.1L909.1 197.7L910.7 192.4L910.7 188L909.1 182.7L906.4 176.1L906.1 172.5L908.4 169L911.4 168.1L914.7 164.1L918.7 160.2L921.6 157.9L924.3 156.2L925.9 154L924.9 150.4L924.3 146.5L924.3 143.4L926.3 139.8L927.6 138.1L930.9 135.4L930.9 130.6L934.2 129.7L937.5 127.9L943.8 125.2L942.5 122.2L941.5 119.5L944.1 116.4L949.1 113.8L954 112.4L957.3 110.7L955.7 108.5L957.3 106.3L957.3 104L958.3 99.6L962.6 96.1L964 93.9L962.3 92.1L957.3 89.9L950.7 88.6L945.8 87.3L942.5 86.4L947.4 84.2L954 83.3L960.7 82L967.3 79.7L972.2 76.7L976.5 70.9L978.8 64.3L980.5 57.7M958.3 117.3L960.7 116L964 114.2L967.3 111.6L972.2 108.5L975.9 102.3L973.9 101.8L970.6 106.3L966.6 107.1L965.6 104L964 104.9L962.3 108.5L960 111.6L958.3 117.3M979.8 99.2L982.2 101L985.5 99.2L987.1 103.2L997 99.6L992.1 90.8L987.1 86.4L983.8 81.5L979.8 84.2L980.5 90.8L979.2 95.2L979.8 99.2M861.4 40L861.4 44.4L863.1 48.8L870 57.7L878 58.5L884.6 60.3L894.5 63L903.1 65.2L905.4 68.7L907.1 75.3L909.7 82.8L911.7 82L913.7 78.9L913 73.1L912 68.3L919.3 63L919.3 57.7L916.7 51.5L913.7 45.7L917.7 42.2L919.3 40M945.1 40L945.1 44.4L947.1 47.5L952.1 51.9L957.7 48.4L959.7 44.4L960.7 40M962.3 40L963.6 44.4L969.3 49.7L972.2 55.4L974.2 59.4L977.2 62.1L982.2 65.2M805.2 47.9L810.2 46.6L816.8 47.5L818.5 48.8L813.5 49.3L808.5 50.1L805.2 47.9M835 57.7L836.6 60.7L838.3 58.5L837.6 53.7L835.7 52.4L835 57.7M638.2 40L640.2 44.8L642.2 47.1L648.1 46.6L653.8 49.3L649.8 54.6L644.8 57.7L640.2 60.7L634.9 63.8L630.6 66L628.6 67.4L630.6 68.7L636.6 66.5L643.2 63.4L651.5 59.4L659.7 55.9L666.3 50.6L672.3 45.7L676.3 43.5L677.9 40M664.7 56.8L668 58.1L672.3 55L671.6 51.9L668.3 50.6L665 53.2L664.7 56.8M620 73.1L625 71.3L626.6 69.6L623.3 70.5L620 73.1M611.8 76.2L616.7 75.3L615.1 74L611.8 76.2M600.2 79.7L605.2 78.4L601.8 77.5L600.2 79.7M894.8 212.7L897.5 209.6L901.1 207.9L904.4 207.4L909.4 207.4L912.7 207.9L916 209.6L919.3 211.4L922.6 214.5L926.9 216.7L930.2 220.2L926.3 221.6L921.6 221.6L919.3 219.4L916.7 214.9L912.7 214.1L909.4 213.2L906.1 212.7L902.8 211.8L897.8 210.5L894.8 212.7M936.2 228.2L940.2 229.1L942.5 228.6L946.4 229.1L949.1 226.9L946.1 223.3L941.8 221.6L937.5 222L935.2 222.4L936.5 224.7L936.2 228.2M916.3 228.2L919.3 227.7L923.3 229.1L921.6 230.8L918.3 230.4L916.3 228.2M953.4 228.2L958.7 228.2L958.3 230L953.7 230L953.4 228.2M917.7 191.5L919.3 190.6L920.3 192.4L918.7 193.7L917.7 191.5M918.7 201.2L919.3 199L918.3 199.9L918.7 201.2M922.6 203.4L924.3 205.7L925.9 210.1L924.3 207.9L922.6 203.4M870.7 103.2L874.7 102.7L879.6 103.6L884.6 104L887.9 104.5L895.5 104L894.5 101.8L892.9 98.7L887.9 95.2L882.9 93.9L878 95.2L873 100.5L870.7 103.2M885.9 106.3L887.9 107.6L889.6 109.8L888.9 115.1L889.9 119.5L889.9 123.5L887.6 125.7L885.9 123.9L885.3 119.5L885.6 115.1L884.6 111.6L885.9 106.3M896.8 106.3L901.1 105.4L906.1 105.8L909.7 109.3L909.4 112L905.1 112.9L905.1 117.3L903.8 119.5L902.8 116.9L899.8 115.1L899.8 110.7L896.8 106.3M900.5 125.2L904.4 126.1L907.7 123.9L911.7 121.3L914.7 119.9L912.7 120.8L907.7 121.7L904.4 123.9L900.5 125.2M912 118.2L917 118.6L922.3 117.3L922.6 114.6L917.7 115.5L914 116.4L912 118.2M854.2 86.4L856.2 83.3L854.2 78.4L853.2 73.1L851.5 71.8L850.2 75.3L851.5 79.7L853.2 84.2L854.2 86.4M90.9 310.4L95.2 308.2L97.5 310.8L99.2 313.9L96.9 319.2L94.2 321L90.3 318.3L89.9 313.9L90.9 310.4M81.7 324.1L83 330.7L85.3 338.2L87.6 344.8L86.3 347.5L83.6 340.4L81.7 333.8L81.7 324.1M97.5 351.5L100.2 358.1L100.2 364.7L101.8 371.3L100.2 373.1L98.5 366.9L97.5 360.3L97.5 351.5M104.1 289.6L105.8 294L104.1 298.4L103.5 294L104.1 289.6M659.7 211.4L661.4 212.7L660.4 213.2L659.7 211.4M665 213.6L667.3 214.1L667 215.4L665.3 215.4L665 213.6M658.7 221.1L660.4 221.1L663.4 222.4L663 225.5L660.7 226L659.7 223.8L658.7 221.1" fill="none" stroke="#000" stroke-width="1.3" stroke-linejoin="round"/>
<path d="M481.9 75L489.2 80M476.1 75L473.2 79.3L474.7 86.6L481.9 89.5L490.7 88.1L496.5 86.6L506.7 86.6M452.1 52.4L448.4 58.9L444.1 63.3M588.3 45.8L588.3 50.9M591.2 56L598.4 63.3L607.2 70.6M614.5 72L624.7 69.1M627.6 66.9L636.3 63.3L646.5 56M401.8 179.8L415 176.2L429.5 179.8L444.1 185.6L452.8 190M474.7 190L496.5 185.6L518.3 183.4L540.2 182L554.8 181.3L565 184.9L565 190M149.9 275.9L158.6 283.2L167.4 290.5L173.2 300.7L175.4 312.3L175.4 324L170.3 332.7L164.5 337.1M183.4 218.4L189.2 224.2L196.5 222L206.7 216.9L215.4 214.8M151.4 246.8L151.7 254.8M159.4 252.9L165.2 254.1M158.6 266.5L167.4 270.1L179 273L189.2 273L199.4 264.3L208.2 257L216.9 254.1L225.6 254.8L235.8 258.4M269.3 211.8L265 223.5L264.2 236.6L265 248.3L270.8 257L281 262.8L289.7 268.6L298.4 273L305.7 277.4L313 281.7M377.1 216.2L368.3 217.7L356.7 226.4L349.4 236.6L348 242.4M380 255.5L374.2 265.7L369.8 271.6M267.9 294.9L272.2 303.6L275.1 313.8L278.1 321.1L283.9 329.8L288.3 340M307.2 302.1L313 315.2L317.4 324M212.5 340L219.8 331.3L232.9 326.2L247.5 326.9L260.6 330.5L270.8 337.1M565 190L560.6 198.7L551.8 207.5L537.3 213.3L518.3 220.6L503.8 225.7L487.8 228.6L470.3 232.2L455.7 238.1L445.5 246.8L444.1 255.5L454.3 262.8L467.4 267.2L484.9 269.4L499.4 271.6L511.1 277.4L515.4 284.7L512.5 294.9L508.2 303.6L509.6 313.8L516.9 322.5L525.6 326.9M420.8 192.9L432.4 198.7L441.2 207.5L447 219.1L444.1 229.3L436.8 238.1L429.5 246.8L428.1 255.5L432.4 267.2L438.3 277.4L439.7 289L435.3 299.2L433.9 309.4L433.9 316.7M645 211.8L653.8 215.5L661.1 220.6L662.5 224.2M406.9 211.8L413.5 219.1L417.1 229.3L417.1 241L412 252.6L406.2 262.8L398.9 271.6L391.7 278.8L384.4 284.7M398.9 313.8L403.3 324L409.1 329.8L415 335.6M902.8 241L915.9 238.1L930.5 235.9L946.5 237.3L961.1 239.5L969.8 245.3L975.6 251.2M933.4 217.7L945 214.8L956.7 206L966.9 198.7L975.6 192.9M891.2 190L892.6 204.6L893.3 219.1L893.3 230.8M915.9 190L918.8 204.6M907.2 274.5L904.3 289L901.4 300.7L904.3 313.8L908.6 324M123.7 340L131 342.9L142.6 345.8L152.8 345.1L158.6 342.2M123 389.5L121.5 398.3L122.2 408.4L126.6 417.2L132.4 421.6M152.8 361.8L160.1 359.7L168.8 358.2L174.7 363.3L173.9 370.6L168.8 377.9L163 383.7L157.2 391L152.8 392.4M209.6 344.4L214 356L216.2 369.1L214 382.2L209.6 395.3L214 401.2L225.6 408.4L237.3 414.3L247.5 421.6L253.3 427.4L256.2 432.5L251.8 433.2L243.1 436.1L240.2 443.4L237.3 452.1L231.5 456.5L218.3 460.9L203.8 463.8L189.2 463.8L179 460.9L174.7 453.6L170.3 444.9L161.6 440.5L148.4 437.6L135.3 434.7L117.9 432.5L109.1 433.2L101.8 440.5L98.9 449.2L88.7 458M302.8 412.1L294.1 414.3L289.7 423L289.7 431.7L285.3 439L276.6 440.5L266.4 440.5L263.5 449.2L263.5 463.8L266.4 478.3L267.1 485.6M302.8 418.6L299.9 430.3L298.4 439L301.4 447.8L307.2 458L315.9 465.2L327.6 471.1L339.2 478.3L346.5 485.6M273.7 344.4L283.9 353.1L295.5 361.8L307.2 370.6L318.8 377.9L327.6 386.6L336.3 396.8L343.6 405.5L349.4 415.7L355.2 427.4L359.6 439L364 444.9M291.2 344.4L301.4 353.1L313 361.8L327.6 369.1L339.2 377.9L348 386.6L356.7 395.3L361.1 399.7M492.1 347.3L503.8 354.6L514 363.3L522.7 372L530 379.3L537.3 386.6L546 396.8L554.8 404.1L567.9 411.4L583.9 412.8L601.4 409.9L615.9 404.1L630.5 398.3L645 393.9L664 391.7L680 391M512.5 350.2L521.3 356M535.8 373.5L538.7 380.8M602.8 367.7L608.6 370.6M480.5 361.8L487.8 372L496.5 379.3L508.2 383.7L519.8 393.9L530 402.6L534.4 412.8L540.2 424.5L542.4 434.7L540.2 441.9L531.5 446.3L522.7 452.1L511.1 456.5L503.8 458L496.5 450.7L493.6 444.9M496.5 463.8L505.2 469.6L514 468.2L525.6 460.9L537.3 456.5L554.8 452.1L569.3 446.3L583.9 440.5L601.4 435.4L613 441.9L627.6 444.9L642.1 447.8L656.7 450.7L680 453.6M399.7 463.8L409.1 469.6L423.7 474L438.3 476.9L448.4 477.6M755.7 353.1L767.4 350.2L781.9 349.5L793.6 344.4L811.1 341.5L832.9 340.7L854.8 342.9L869.3 348.7L879.5 354.6L882.4 361.8L876.6 367.7L862 366.2L840.2 364.8L818.3 365.5L803.8 364L790.7 358.9L781.9 357.5L773.2 359.7L764.5 361.8L758.6 357.5L755.7 353.1M680 386.6L685.8 393.9L697.5 401.2L709.1 414.3L723.7 424.5L738.3 430.3L749.9 437.6L757.2 447.8L752.8 453.6L741.2 458L723.7 456.5L709.1 456.5L694.6 458L680 455M885.3 478.3L886.8 463.8L885.3 444.9L886.8 433.2L894.1 431.7L905.7 437.6L915.9 446.3L924.7 456.5L930.5 463.8M869.3 480.5L879.5 480.5M898.4 479.8L898.4 462.3L902.8 460.9L910.1 466.7L918.8 475.4L930.5 481.3" fill="none" stroke="#000" stroke-width="2.1" stroke-dasharray="8 5.5" stroke-linejoin="round"/>
<path d="M481.9 112.8L496.5 112.1L515.4 111.4L525.6 108.4L535.8 109.9L544.6 117.2L553.3 125.9L569.3 127.4L586.8 125.9L602.8 117.2L610.1 105.5L618.8 95.3L630.5 88.1L645 84.4L664 83L680 82.2M403.3 156.5L416.4 155L428.1 156.5L441.2 159.4L452.8 166.7L464.5 171.8L481.9 166L496.5 168.9L511.1 160.9L525.6 150.7L534.4 148.5L544.6 152.1L554.8 150.7L569.3 144.1L581 149.2L591.2 152.9L605.7 150.7L627.6 146.3L642.1 139L656.7 130.3L671.3 126.7L680 125.9M414.4 131.9L422.1 132.4L428 130.9L447.4 128.5M421.2 123.2L428 130.9L431.8 137.7L435.7 143.5M461 124.1L466.8 129L468.7 135.8L466.8 142.6L460 145.5L454.2 144.5M496.9 123.2L513.4 120.7L521.2 119.8L527 123.2L524.1 126.1L515.3 129L505.6 133.8L500.8 135.8L496.9 131.9L496.9 123.2M948 121.6L946.5 134.7L948.7 150.7L950.9 162.3L956.7 159.4L961.1 144.9L965.4 130.3L967.6 123L961.1 118.6L952.3 117.9L948 121.6M680 82.2L693.1 81.5L709.1 84.4L722.2 92.4L731 102.6L735.3 112.8L734.6 123L722.2 124.5L713.5 129.6L708.4 139L710.6 147.8L717.9 152.1L728.1 146.3L738.3 136.1L745.5 144.9L747 155L741.2 166.7L733.9 175.4L720.8 181.3L709.1 185.6L697.5 187.1L690.2 181.3L688.7 171.1L693.1 163.8L698.9 153.6L698.9 143.4L694.6 133.2L687.3 126.7L680 125.9M514 246.8L525.6 240.2L540.2 235.1L553.3 236.6L558.4 243.9L556.2 252.6L550.4 258.4L540.2 262.8L525.6 258.4L515.4 254.1L514 246.8M680 296.3L664 299.2L648 308L659.6 316.7L680 321.1M680 297L698.9 294.9L712 290.5L728.1 289.8L742.6 291.2L751.4 299.2L757.2 308L749.9 316.7L731 319.6L709.1 320.3L691.7 321.1L680 320.3M819.8 201.7L809.6 214.8L803.8 227.9L803.8 239.5L811.1 243.9L825.6 241L847.5 237.3M764.5 404.1L770.3 397.5L781.9 399.7L803.8 412.8L814 423L832.9 431.7L844.6 432.5L851.1 440.5L843.1 449.2L837.3 450.7L819.8 440.5L805.2 430.3L789.2 423L770.3 414.3L764.5 404.1" fill="none" stroke="#000" stroke-width="2.1" stroke-linejoin="round" stroke-linecap="round"/>
<path d="M525.6 44.4L531.5 50.2L540.2 53.8L548.9 53.1L554.8 48.7L557.7 42.9M490.7 51.7L487.8 60.4L492.1 65.5L500.9 67.7M455 69.1L460.1 76.4L461.3 83.7L459.4 90.2L455.7 95.3L449.2 97.1M448.4 96.8L461.6 97.5L474.7 101.2L490.7 103.3L506.7 101.2L522.7 98.3L540.2 97.5L551.8 93.9L563.5 86.6L573.7 88.1L589.7 91.7L605.7 88.1L620.3 82.2L634.9 77.1L652.3 72L668.3 67.7L680 61.8M393.8 190L406.2 168.9L426.6 168.9L442.6 174L455.7 180.5L470.3 182L490.7 178.3L508.2 173.3L525.6 170.3L543.1 168.2L560.6 163.8L567.9 163.8L575.1 170.3L586.8 174.7L598.4 180.5L607.2 174.7L615.9 166.7L626.1 166.7L630.5 175.4L634.9 190M401.8 140.5L388.7 160.9M680 63.3L685.8 54.6L688.7 47.3L690.2 42.9M711.3 43.6L715 53.1L723.7 64.8L735.3 77.9L745.5 92.4L752.8 101.2L758.6 107L765.9 110.2M773.2 150L765.9 153.6L760.1 160.9L754.3 171.1L748.4 181.3L744.1 190M929 129.6L933.4 144.9L937.8 160.9L940.7 174L946.5 182.7L955.2 183.4L965.4 178.3L971.3 169.6L972.7 156.5L969.8 149.2L971.3 141.9L977.1 137.6M962.5 99L971.3 96.1L977.1 93.2M142.9 105.1L146.6 113.2L149.5 120.8L151 128.5M82.2 167.1L89.8 164.1L98.6 161.2M148.4 290.5L158.6 299.2L164.5 309.4L163 321.1L157.2 329.8L147 334.2L135.3 331.3L126.6 324L123 316.7M578.8 214L554.8 219.1L532.9 226.4L511.1 233.7L489.2 239.5L471.7 246.1L473.2 254.1L490.7 258.4L508.2 264.3L522.7 274.5L532.9 281.7L554.8 275.9L572.2 273.7L591.2 271.6L607.2 271.6L610.1 264.3L620.3 255.5L634.9 248.3L649.4 246.1L664 243.9L680 235.1M594.1 219.9L602.8 219.9L613 214.8L624.7 206L631.9 197.3L634.9 190M680 277.4L656.7 279.6L634.9 283.2L613 287.6L604.3 294.9L605.7 306.5L613 318.2L624.7 328.3L633.4 335.6L636.3 340M680 233.7L694.6 230.8L706.2 227.1L716.4 219.1L726.6 211.8L732.4 204.6L738.3 197.3L744.1 190M680 278.1L697.5 278.1L716.4 272.3L732.4 273L738.3 265.7L738.3 255.5L735.3 241L733.2 230.8L733.9 220.6L741.2 216.9L757.2 219.1L774.7 216.2L790.7 208.9L803.8 203.8L814 198.7L819.8 194.4M865 246.1L856.2 255.5L848.9 252.6L840.2 248.3L827.1 246.8L811.1 257L803.8 255.5L790.7 245.3L781.9 240.2L776.1 241.7L773.2 248.3L773.2 264.3L781.9 271.6L792.1 273.7L799.4 284.7L808.2 293.4L825.6 297.8L840.2 302.1L854.8 306.5L863.5 310.9L865.7 317.4L857.7 319.6L840.2 321.8L818.3 324L796.5 325.4L774.7 329.8L752.8 333.4L731 337.1L715 340M879.5 316.7L883.9 312.3L892.6 313.1L895.5 319.6L894.1 326.9L889.7 326.9L883.9 321.1L879.5 316.7M125.1 485.6L125.1 475.4L115 468.2L115 459.4L120.8 452.1L129.5 450L138.3 455L144.1 463.8L148.4 472.5L148.4 479.8L146.3 485.6M166.7 486.4L168.8 481.3L174.7 480.5L180.5 483.4L183.4 487.1M377.1 467.4L371.3 464.1L362.5 465L355.5 468.2L355.2 475.4L361.1 482L366.9 483.4L374.2 479.8L376.4 474L375.6 468.2M634.1 340L634.1 348.7L627.6 357.5L618.8 365.5L598.4 363.3L569.3 361.8L559.1 367.7L556.2 377.9L562 386.6L573.7 391.7L598.4 391L613 385.1L627.6 380.8L642.1 376.4L656.7 371.3M672.7 369.1L680 371.3M521.3 485.6L530 476.9L540.2 471.1L554.8 468.2L563.5 469.6M579.5 476.9L583.9 468.2L594.1 465.2L605.7 469.6L615.9 476.9L627.6 480.5L642.1 479.1L656.7 476.2L680 474.7M715 340L704.8 345.8L690.2 354.6L688.7 370.6L680 370.6M725.1 389.5L745.5 380L767.4 381.5L784.9 383.7L803.8 391L818.3 396.8L837.3 399L846 412.8L857.7 418.6L865 430.3L867.9 444.9L870.8 458L865 468.2L854.8 475.4L847.5 476.9L832.9 471.1L819.8 460.9L811.1 453.6L800.9 447.8L796.5 441.9L789.2 437.6L767.4 425.9L745.5 409.9L735.3 401.2L725.1 389.5M869.3 418.6L862 411.4L860.6 396.8L865 389.5L881 391L898.4 395.3L905.7 401.2L915.9 408.4L923.2 415L914.5 417.2L905.7 415.7L898.4 407L891.2 404.8L879.5 406.3L873.7 412.8L869.3 418.6M798 458L798.7 468.2M680 474.7L691.7 478.3L704.8 485.6" fill="none" stroke="#000" stroke-width="3.8" stroke-linejoin="round" stroke-linecap="round"/>
<ellipse cx="586.1" cy="211.1" rx="5.6" ry="8.6" fill="none" stroke="#000" stroke-width="3.6"/>
<ellipse cx="666.2" cy="364.8" rx="5.6" ry="8.6" fill="none" stroke="#000" stroke-width="3.6"/>
<rect x="381.8" y="114.4" width="132.1" height="35.5" fill="none" stroke="#000" stroke-width="3.8"/>
<rect x="249" y="202.8" width="165.2" height="87.7" fill="none" stroke="#000" stroke-width="3.8"/>
</g>
<rect x="83.8" y="44" width="892.9" height="441.8" fill="none" stroke="#000" stroke-width="2.2"/>
<line x1="72.3" y1="44" x2="83.8" y2="44" stroke="#000" stroke-width="2.2"/>
<text x="60.3" y="55.4" font-size="31.5" text-anchor="end">60N</text>
<line x1="72.3" y1="132.4" x2="83.8" y2="132.4" stroke="#000" stroke-width="2.2"/>
<text x="60.3" y="143.8" font-size="31.5" text-anchor="end">40N</text>
<line x1="72.3" y1="220.7" x2="83.8" y2="220.7" stroke="#000" stroke-width="2.2"/>
<text x="60.3" y="232.1" font-size="31.5" text-anchor="end">20N</text>
<line x1="72.3" y1="309.1" x2="83.8" y2="309.1" stroke="#000" stroke-width="2.2"/>
<text x="60.3" y="320.5" font-size="31.5" text-anchor="end">EQ</text>
<line x1="72.3" y1="397.4" x2="83.8" y2="397.4" stroke="#000" stroke-width="2.2"/>
<text x="60.3" y="408.8" font-size="31.5" text-anchor="end">20S</text>
<line x1="72.3" y1="485.8" x2="83.8" y2="485.8" stroke="#000" stroke-width="2.2"/>
<text x="60.3" y="497.2" font-size="31.5" text-anchor="end">40S</text>
<line x1="83.8" y1="485.8" x2="83.8" y2="494.3" stroke="#000" stroke-width="2.2"/>
<text x="83.8" y="522.8" font-size="31.5" text-anchor="middle">30E</text>
<line x1="183" y1="485.8" x2="183" y2="494.3" stroke="#000" stroke-width="2.2"/>
<text x="183" y="522.8" font-size="31.5" text-anchor="middle">60E</text>
<line x1="282.2" y1="485.8" x2="282.2" y2="494.3" stroke="#000" stroke-width="2.2"/>
<text x="282.2" y="522.8" font-size="31.5" text-anchor="middle">90E</text>
<line x1="381.4" y1="485.8" x2="381.4" y2="494.3" stroke="#000" stroke-width="2.2"/>
<text x="381.4" y="522.8" font-size="31.5" text-anchor="middle">120E</text>
<line x1="480.6" y1="485.8" x2="480.6" y2="494.3" stroke="#000" stroke-width="2.2"/>
<text x="480.6" y="522.8" font-size="31.5" text-anchor="middle">150E</text>
<line x1="579.9" y1="485.8" x2="579.9" y2="494.3" stroke="#000" stroke-width="2.2"/>
<text x="579.9" y="522.8" font-size="31.5" text-anchor="middle">180</text>
<line x1="679.1" y1="485.8" x2="679.1" y2="494.3" stroke="#000" stroke-width="2.2"/>
<text x="679.1" y="522.8" font-size="31.5" text-anchor="middle">150W</text>
<line x1="778.3" y1="485.8" x2="778.3" y2="494.3" stroke="#000" stroke-width="2.2"/>
<text x="778.3" y="522.8" font-size="31.5" text-anchor="middle">120W</text>
<line x1="877.5" y1="485.8" x2="877.5" y2="494.3" stroke="#000" stroke-width="2.2"/>
<text x="877.5" y="522.8" font-size="31.5" text-anchor="middle">90W</text>
<line x1="976.7" y1="485.8" x2="976.7" y2="494.3" stroke="#000" stroke-width="2.2"/>
<text x="976.7" y="522.8" font-size="31.5" text-anchor="middle">60W</text>
<clipPath id="clipb"><rect x="1134.5" y="44" width="893.2" height="441.8"/></clipPath>
<g clip-path="url(#clipb)">
<path d="M1300.8 477.3H1307.5V486.1H1300.8ZM1499.3 477.3H1505.9V486.1H1499.3ZM1135.5 468.4H1155.3V477.3H1135.5ZM1300.8 468.4H1307.5V477.3H1300.8ZM1353.8 468.4H1373.6V477.3H1353.8ZM1492.7 468.4H1499.3V477.3H1492.7ZM1148.7 459.6H1155.3V468.4H1148.7ZM1241.3 459.6H1300.8V468.4H1241.3ZM1347.1 459.6H1353.8V468.4H1347.1ZM1479.4 459.6H1486V468.4H1479.4ZM1935.8 459.6H1942.4V468.4H1935.8ZM1148.7 450.8H1155.3V459.6H1148.7ZM1214.9 450.8H1228.1V459.6H1214.9ZM1333.9 450.8H1353.8V459.6H1333.9ZM1459.6 450.8H1466.2V459.6H1459.6ZM1982.1 450.8H1988.7V459.6H1982.1ZM1214.9 441.9H1228.1V450.8H1214.9ZM1327.3 441.9H1353.8V450.8H1327.3ZM1982.1 441.9H1988.7V450.8H1982.1ZM1155.3 433.1H1168.6V441.9H1155.3ZM1188.4 433.1H1195V441.9H1188.4ZM1208.3 433.1H1214.9V441.9H1208.3ZM1314.1 433.1H1353.8V441.9H1314.1ZM1916 433.1H1922.6V441.9H1916ZM1982.1 433.1H1988.7V441.9H1982.1ZM1155.3 424.2H1188.4V433.1H1155.3ZM1314.1 424.2H1340.5V433.1H1314.1ZM1353.8 424.2H1360.4V433.1H1353.8ZM1578.6 424.2H1585.3V433.1H1578.6ZM1909.3 424.2H1916V433.1H1909.3ZM1982.1 424.2H1988.7V433.1H1982.1ZM1155.3 415.4H1168.6V424.2H1155.3ZM1353.8 415.4H1367V424.2H1353.8ZM1572 415.4H1578.6V424.2H1572ZM1982.1 415.4H1995.3V424.2H1982.1ZM1155.3 406.6H1168.6V415.4H1155.3ZM1353.8 406.6H1360.4V415.4H1353.8ZM1406.7 406.6H1413.3V415.4H1406.7ZM1565.4 406.6H1572V415.4H1565.4ZM1876.3 406.6H1882.9V415.4H1876.3ZM1155.3 397.7H1168.6V406.6H1155.3ZM1340.5 397.7H1353.8V406.6H1340.5ZM1565.4 397.7H1572V406.6H1565.4ZM1849.8 397.7H1856.4V406.6H1849.8ZM1168.6 388.9H1181.8V397.7H1168.6ZM1333.9 388.9H1340.5V397.7H1333.9ZM1393.4 388.9H1400.1V397.7H1393.4ZM1823.4 388.9H1830V397.7H1823.4ZM1333.9 380.1H1340.5V388.9H1333.9ZM1380.2 380.1H1386.8V388.9H1380.2ZM1539 380.1H1545.6V388.9H1539ZM1763.8 380.1H1770.4V388.9H1763.8ZM1340.5 371.2H1347.1V380.1H1340.5ZM1373.6 371.2H1380.2V380.1H1373.6ZM1532.3 371.2H1539V380.1H1532.3ZM1737.4 362.4H1744V371.2H1737.4ZM1724.1 353.6H1737.4V362.4H1724.1ZM1962.2 353.6H1968.9V362.4H1962.2ZM1624.9 344.7H1638.2V353.6H1624.9ZM1644.8 344.7H1658V353.6H1644.8ZM1671.2 344.7H1691.1V353.6H1671.2ZM1710.9 344.7H1717.5V353.6H1710.9ZM1949 344.7H1962.2V353.6H1949ZM1459.6 335.9H1486V344.7H1459.6ZM1591.9 335.9H1598.5V344.7H1591.9ZM1942.4 335.9H1962.2V344.7H1942.4ZM1175.2 327.1H1181.8V335.9H1175.2ZM1446.4 327.1H1453V335.9H1446.4ZM1578.6 327.1H1585.3V335.9H1578.6ZM1935.8 327.1H1942.4V335.9H1935.8ZM1221.5 318.2H1228.1V327.1H1221.5ZM1446.4 318.2H1453V327.1H1446.4ZM1558.8 318.2H1565.4V327.1H1558.8ZM1704.3 318.2H1757.2V327.1H1704.3ZM1777.1 318.2H1810.1V327.1H1777.1ZM1916 318.2H1942.4V327.1H1916ZM1446.4 309.4H1453V318.2H1446.4ZM1492.7 309.4H1499.3V318.2H1492.7ZM1691.1 309.4H1704.3V318.2H1691.1ZM1744 309.4H1810.1V318.2H1744ZM1902.7 309.4H1955.6V318.2H1902.7ZM1512.5 300.5H1532.3V309.4H1512.5ZM1691.1 300.5H1704.3V309.4H1691.1ZM1744 300.5H1823.4V309.4H1744ZM1902.7 300.5H1955.6V309.4H1902.7ZM1479.4 291.7H1512.5V300.5H1479.4ZM1697.7 291.7H1717.5V300.5H1697.7ZM1730.8 291.7H1796.9V300.5H1730.8ZM1909.3 291.7H1942.4V300.5H1909.3ZM1479.4 282.9H1558.8V291.7H1479.4ZM1572 282.9H1591.9V291.7H1572ZM1479.4 274H1492.7V282.9H1479.4ZM1558.8 274H1565.4V282.9H1558.8ZM1479.4 265.2H1486V274H1479.4ZM1598.5 265.2H1605.1V274H1598.5ZM1618.3 256.4H1624.9V265.2H1618.3ZM1638.2 247.5H1644.8V256.4H1638.2ZM1849.8 247.5H1856.4V256.4H1849.8ZM1916 247.5H1922.6V256.4H1916ZM1479.4 238.7H1486V247.5H1479.4ZM1644.8 238.7H1651.4V247.5H1644.8ZM1486 229.9H1492.7V238.7H1486ZM1671.2 229.9H1684.5V238.7H1671.2ZM1783.7 229.9H1810.1V238.7H1783.7ZM1955.6 229.9H1962.2V238.7H1955.6ZM1492.7 221H1505.9V229.9H1492.7ZM1691.1 221H1697.7V229.9H1691.1ZM1783.7 221H1810.1V229.9H1783.7ZM1816.7 221H1836.6V229.9H1816.7ZM1955.6 221H1962.2V229.9H1955.6ZM1492.7 212.2H1519.1V221H1492.7ZM1710.9 212.2H1730.8V221H1710.9ZM1816.7 212.2H1836.6V221H1816.7ZM1955.6 212.2H1968.9V221H1955.6ZM1975.5 212.2H1988.7V221H1975.5ZM1439.7 203.3H1446.4V212.2H1439.7ZM1486 203.3H1492.7V212.2H1486ZM1558.8 203.3H1565.4V212.2H1558.8ZM1744 203.3H1750.6V212.2H1744ZM1836.6 203.3H1843.2V212.2H1836.6ZM1962.2 203.3H1968.9V212.2H1962.2ZM1995.3 203.3H2001.9V212.2H1995.3ZM1472.8 194.5H1479.4V203.3H1472.8ZM1591.9 194.5H1605.1V203.3H1591.9ZM1770.4 194.5H1777.1V203.3H1770.4ZM1836.6 194.5H1843.2V203.3H1836.6ZM1783.7 185.7H1790.3V194.5H1783.7ZM1836.6 185.7H1849.8V194.5H1836.6ZM1803.5 159.2H1810.1V168H1803.5ZM1816.7 141.5H1823.4V150.3H1816.7ZM1803.5 132.7H1816.7V141.5H1803.5ZM1810.1 123.8H1816.7V132.7H1810.1ZM1810.1 97.3H1816.7V106.2H1810.1ZM1803.5 88.5H1810.1V97.3H1803.5ZM1631.5 62H1638.2V70.8H1631.5ZM1704.3 62H1730.8V70.8H1704.3ZM1512.5 44.3H1519.1V53.1H1512.5ZM1631.5 44.3H1638.2V53.1H1631.5ZM1730.8 44.3H1737.4V53.1H1730.8Z" fill="#a09fd0"/>
<path d="M1307.5 477.3H1386.8V486.1H1307.5ZM1975.5 477.3H1982.1V486.1H1975.5ZM1307.5 468.4H1353.8V477.3H1307.5ZM1975.5 468.4H1982.1V477.3H1975.5ZM1135.5 459.6H1148.7V468.4H1135.5ZM1300.8 459.6H1347.1V468.4H1300.8ZM1486 459.6H1492.7V468.4H1486ZM1942.4 459.6H1982.1V468.4H1942.4ZM1135.5 450.8H1148.7V459.6H1135.5ZM1228.1 450.8H1333.9V459.6H1228.1ZM1466.2 450.8H1479.4V459.6H1466.2ZM1552.2 450.8H1565.4V459.6H1552.2ZM1935.8 450.8H1982.1V459.6H1935.8ZM1142.1 441.9H1155.3V450.8H1142.1ZM1228.1 441.9H1327.3V450.8H1228.1ZM1545.6 441.9H1572V450.8H1545.6ZM1929.2 441.9H1982.1V450.8H1929.2ZM1148.7 433.1H1155.3V441.9H1148.7ZM1214.9 433.1H1314.1V441.9H1214.9ZM1545.6 433.1H1585.3V441.9H1545.6ZM1922.6 433.1H1982.1V441.9H1922.6ZM1148.7 424.2H1155.3V433.1H1148.7ZM1188.4 424.2H1314.1V433.1H1188.4ZM1340.5 424.2H1353.8V433.1H1340.5ZM1545.6 424.2H1578.6V433.1H1545.6ZM1916 424.2H1982.1V433.1H1916ZM1195 415.4H1353.8V424.2H1195ZM1545.6 415.4H1572V424.2H1545.6ZM1896.1 415.4H1982.1V424.2H1896.1ZM1201.6 406.6H1353.8V415.4H1201.6ZM1545.6 406.6H1565.4V415.4H1545.6ZM1882.9 406.6H1995.3V415.4H1882.9ZM1201.6 397.7H1340.5V406.6H1201.6ZM1406.7 397.7H1413.3V406.6H1406.7ZM1532.3 397.7H1565.4V406.6H1532.3ZM1856.4 397.7H1995.3V406.6H1856.4ZM1162 388.9H1168.6V397.7H1162ZM1201.6 388.9H1333.9V397.7H1201.6ZM1400.1 388.9H1426.5V397.7H1400.1ZM1532.3 388.9H1558.8V397.7H1532.3ZM1830 388.9H1995.3V397.7H1830ZM1168.6 380.1H1181.8V388.9H1168.6ZM1208.3 380.1H1333.9V388.9H1208.3ZM1386.8 380.1H1439.7V388.9H1386.8ZM1525.7 380.1H1539V388.9H1525.7ZM1770.4 380.1H1988.7V388.9H1770.4ZM1175.2 371.2H1181.8V380.1H1175.2ZM1208.3 371.2H1340.5V380.1H1208.3ZM1380.2 371.2H1446.4V380.1H1380.2ZM1499.3 371.2H1505.9V380.1H1499.3ZM1519.1 371.2H1532.3V380.1H1519.1ZM1750.6 371.2H1975.5V380.1H1750.6ZM1175.2 362.4H1195V371.2H1175.2ZM1208.3 362.4H1453V371.2H1208.3ZM1492.7 362.4H1505.9V371.2H1492.7ZM1519.1 362.4H1532.3V371.2H1519.1ZM1744 362.4H1975.5V371.2H1744ZM1175.2 353.6H1472.8V362.4H1175.2ZM1492.7 353.6H1532.3V362.4H1492.7ZM1737.4 353.6H1962.2V362.4H1737.4ZM1175.2 344.7H1499.3V353.6H1175.2ZM1638.2 344.7H1644.8V353.6H1638.2ZM1658 344.7H1671.2V353.6H1658ZM1717.5 344.7H1949V353.6H1717.5ZM1168.6 335.9H1386.8V344.7H1168.6ZM1406.7 335.9H1459.6V344.7H1406.7ZM1486 335.9H1492.7V344.7H1486ZM1598.5 335.9H1942.4V344.7H1598.5ZM1168.6 327.1H1175.2V335.9H1168.6ZM1214.9 327.1H1380.2V335.9H1214.9ZM1386.8 327.1H1446.4V335.9H1386.8ZM1585.3 327.1H1935.8V335.9H1585.3ZM1228.1 318.2H1373.6V327.1H1228.1ZM1386.8 318.2H1406.7V327.1H1386.8ZM1419.9 318.2H1433.1V327.1H1419.9ZM1439.7 318.2H1446.4V327.1H1439.7ZM1565.4 318.2H1704.3V327.1H1565.4ZM1757.2 318.2H1777.1V327.1H1757.2ZM1810.1 318.2H1916V327.1H1810.1ZM1228.1 309.4H1367V318.2H1228.1ZM1380.2 309.4H1400.1V318.2H1380.2ZM1426.5 309.4H1433.1V318.2H1426.5ZM1479.4 309.4H1492.7V318.2H1479.4ZM1618.3 309.4H1691.1V318.2H1618.3ZM1810.1 309.4H1902.7V318.2H1810.1ZM1228.1 300.5H1367V309.4H1228.1ZM1373.6 300.5H1393.4V309.4H1373.6ZM1426.5 300.5H1433.1V309.4H1426.5ZM1439.7 300.5H1512.5V309.4H1439.7ZM1618.3 300.5H1691.1V309.4H1618.3ZM1823.4 300.5H1902.7V309.4H1823.4ZM1221.5 291.7H1360.4V300.5H1221.5ZM1367 291.7H1373.6V300.5H1367ZM1380.2 291.7H1406.7V300.5H1380.2ZM1426.5 291.7H1479.4V300.5H1426.5ZM1512.5 291.7H1532.3V300.5H1512.5ZM1618.3 291.7H1697.7V300.5H1618.3ZM1796.9 291.7H1909.3V300.5H1796.9ZM1942.4 291.7H1962.2V300.5H1942.4ZM1214.9 282.9H1353.8V291.7H1214.9ZM1360.4 282.9H1367V291.7H1360.4ZM1380.2 282.9H1419.9V291.7H1380.2ZM1426.5 282.9H1479.4V291.7H1426.5ZM1558.8 282.9H1572V291.7H1558.8ZM1591.9 282.9H1968.9V291.7H1591.9ZM1201.6 274H1300.8V282.9H1201.6ZM1307.5 274H1353.8V282.9H1307.5ZM1360.4 274H1367V282.9H1360.4ZM1373.6 274H1446.4V282.9H1373.6ZM1453 274H1479.4V282.9H1453ZM1591.9 274H1962.2V282.9H1591.9ZM1208.3 265.2H1287.6V274H1208.3ZM1294.2 265.2H1360.4V274H1294.2ZM1367 265.2H1380.2V274H1367ZM1386.8 265.2H1446.4V274H1386.8ZM1453 265.2H1479.4V274H1453ZM1605.1 265.2H1949V274H1605.1ZM1208.3 256.4H1287.6V265.2H1208.3ZM1307.5 256.4H1360.4V265.2H1307.5ZM1367 256.4H1373.6V265.2H1367ZM1400.1 256.4H1446.4V265.2H1400.1ZM1453 256.4H1479.4V265.2H1453ZM1624.9 256.4H1942.4V265.2H1624.9ZM1955.6 256.4H1968.9V265.2H1955.6ZM1188.4 247.5H1281V256.4H1188.4ZM1307.5 247.5H1360.4V256.4H1307.5ZM1400.1 247.5H1433.1V256.4H1400.1ZM1439.7 247.5H1479.4V256.4H1439.7ZM1644.8 247.5H1849.8V256.4H1644.8ZM1922.6 247.5H1935.8V256.4H1922.6ZM1955.6 247.5H1982.1V256.4H1955.6ZM1995.3 247.5H2028.4V256.4H1995.3ZM1208.3 238.7H1281V247.5H1208.3ZM1307.5 238.7H1360.4V247.5H1307.5ZM1400.1 238.7H1433.1V247.5H1400.1ZM1439.7 238.7H1479.4V247.5H1439.7ZM1651.4 238.7H1843.2V247.5H1651.4ZM1955.6 238.7H2028.4V247.5H1955.6ZM1168.6 229.9H1175.2V238.7H1168.6ZM1221.5 229.9H1274.4V238.7H1221.5ZM1314.1 229.9H1347.1V238.7H1314.1ZM1400.1 229.9H1433.1V238.7H1400.1ZM1446.4 229.9H1486V238.7H1446.4ZM1684.5 229.9H1783.7V238.7H1684.5ZM1810.1 229.9H1836.6V238.7H1810.1ZM1962.2 229.9H2028.4V238.7H1962.2ZM1228.1 221H1274.4V229.9H1228.1ZM1320.7 221H1347.1V229.9H1320.7ZM1400.1 221H1433.1V229.9H1400.1ZM1446.4 221H1492.7V229.9H1446.4ZM1697.7 221H1783.7V229.9H1697.7ZM1810.1 221H1816.7V229.9H1810.1ZM1962.2 221H1988.7V229.9H1962.2ZM2001.9 221H2028.4V229.9H2001.9ZM1234.7 212.2H1267.8V221H1234.7ZM1327.3 212.2H1340.5V221H1327.3ZM1393.4 212.2H1492.7V221H1393.4ZM1730.8 212.2H1816.7V221H1730.8ZM1988.7 212.2H2028.4V221H1988.7ZM1234.7 203.3H1261.2V212.2H1234.7ZM1446.4 203.3H1486V212.2H1446.4ZM1750.6 203.3H1836.6V212.2H1750.6ZM2001.9 203.3H2028.4V212.2H2001.9ZM1247.9 194.5H1254.6V203.3H1247.9ZM1453 194.5H1472.8V203.3H1453ZM1777.1 194.5H1836.6V203.3H1777.1ZM2021.8 194.5H2028.4V203.3H2021.8ZM1790.3 185.7H1836.6V194.5H1790.3ZM1796.9 176.8H1843.2V185.7H1796.9ZM1803.5 168H1843.2V176.8H1803.5ZM1810.1 159.2H1836.6V168H1810.1ZM1810.1 150.3H1823.4V159.2H1810.1ZM1810.1 141.5H1816.7V150.3H1810.1ZM1638.2 62H1677.8V70.8H1638.2ZM1684.5 62H1704.3V70.8H1684.5ZM1624.9 53.1H1697.7V62H1624.9ZM1704.3 53.1H1730.8V62H1704.3ZM1638.2 44.3H1691.1V53.1H1638.2ZM1717.5 44.3H1730.8V53.1H1717.5Z" fill="#6665aa"/>
<path d="M1624.9 388.9H1631.5V397.7H1624.9ZM1611.7 380.1H1618.3V388.9H1611.7ZM1631.5 380.1H1644.8V388.9H1631.5ZM1578.6 168H1591.9V176.8H1578.6ZM1697.7 168H1717.5V176.8H1697.7ZM1439.7 159.2H1446.4V168H1439.7ZM1486 159.2H1492.7V168H1486ZM1624.9 159.2H1631.5V168H1624.9ZM1684.5 159.2H1691.1V168H1684.5ZM1724.1 159.2H1737.4V168H1724.1ZM1446.4 150.3H1453V159.2H1446.4ZM1466.2 150.3H1472.8V159.2H1466.2ZM1744 150.3H1750.6V159.2H1744ZM1757.2 115H1763.8V123.8H1757.2ZM1499.3 106.2H1505.9V115H1499.3ZM1624.9 106.2H1638.2V115H1624.9ZM1737.4 106.2H1750.6V115H1737.4ZM1651.4 97.3H1664.6V106.2H1651.4ZM1704.3 97.3H1710.9V106.2H1704.3Z" fill="#ffd866"/>
<path d="M1618.3 380.1H1631.5V388.9H1618.3ZM1499.3 168H1558.8V176.8H1499.3ZM1492.7 159.2H1624.9V168H1492.7ZM1691.1 159.2H1724.1V168H1691.1ZM1439.7 150.3H1446.4V159.2H1439.7ZM1499.3 150.3H1744V159.2H1499.3ZM1439.7 141.5H1453V150.3H1439.7ZM1466.2 141.5H1486V150.3H1466.2ZM1505.9 141.5H1757.2V150.3H1505.9ZM1433.1 132.7H1453V141.5H1433.1ZM1466.2 132.7H1492.7V141.5H1466.2ZM1512.5 132.7H1763.8V141.5H1512.5ZM1466.2 123.8H1499.3V132.7H1466.2ZM1512.5 123.8H1763.8V132.7H1512.5ZM1486 115H1499.3V123.8H1486ZM1519.1 115H1757.2V123.8H1519.1ZM1519.1 106.2H1624.9V115H1519.1ZM1638.2 106.2H1737.4V115H1638.2ZM1664.6 97.3H1704.3V106.2H1664.6Z" fill="#ff9020"/>
<path d="M1132.2 147.7L1137.5 146.8L1140.5 147.2L1143.1 149L1144.8 150.3L1148.7 149L1150.7 146.8L1154 147.2L1156 147.7L1155 150.3L1154.7 153L1155 156.1L1153.7 159.6L1152.4 163.1L1151.7 165.4L1151 168L1149.7 171.1L1147.1 172L1143.1 171.1L1141.5 170.2L1138.8 169.8L1135.5 171.1L1132.2 172.9M1143.1 154.8L1145.1 156.5L1148.7 155.2L1150.7 151.7L1147.4 153L1145.1 153.4L1143.1 154.8M1128.9 127.4L1132.5 127.4L1139.5 127.8L1146.4 123.8L1152 123.8L1155.3 125.1L1162 128.7L1168.6 128.2L1173.5 126L1174.2 122.9L1169.6 119L1163.6 113.7L1159.6 111.5L1157.3 109.7L1160.3 106.2L1162.6 103.5L1165.9 100.9L1162 101.3L1157.3 103.1L1153.7 108.8L1152 110.6L1147.4 112.8L1144.1 109.2L1147.4 106.6L1142.1 103.9L1137.5 104.4L1134.5 109.2L1130.9 113.7L1128.9 117.6L1128.9 127.4M1193.4 107.5L1197.7 103.5L1201.6 103.1L1205.9 101.7L1211.6 102.2L1212.2 105.3L1211.6 109.2L1205.9 110.6L1204.3 113.2L1206.3 117.6L1210.6 122.1L1211.2 126.9L1211.6 131.3L1214.2 134.9L1213.5 138.8L1214.9 144.1L1211.6 146.4L1204.9 147.2L1201.3 144.1L1198 140.2L1198 135.8L1199.7 132.2L1202.6 131.3L1200 129.1L1197 124.7L1194.4 120.3L1193.4 117.2L1191.1 113.2L1192.4 110.6L1193.4 107.5M1229.4 110.6L1232.1 107L1236 104.8L1240 106.2L1238.7 111.5L1234.7 115.4L1230.7 116.8L1229.4 110.6M1280.3 106.6L1284.3 103.5L1290.9 103.9L1296.9 103.1L1298.2 104.8L1290.9 106.6L1284.3 107.9L1280.3 106.6M1379.6 81L1382.9 81.9L1386.8 78.3L1392.8 73.9L1397.4 68.2L1399.4 63.3L1397.4 63.7L1394.8 68.6L1389.5 74.3L1383.5 78.8L1379.6 81M1133.8 449L1138.5 441.9L1143.4 435.3L1144.8 426.5L1144.1 423.8L1147.4 420.7L1153.4 415.9L1153.7 407.5L1152.4 402.2L1151 396.9L1157 391.6L1160.6 386.3L1166.3 382.3L1170.9 375.7L1170.2 365.5L1170.2 355.8L1167.6 345.6L1166.3 339.4L1164.9 333.7L1167.6 327.1L1169.2 321.3L1173.9 316.4L1176.8 311.1L1181.8 304.1L1186.1 300.5L1191.7 292.6L1196.7 286L1201 274L1204.3 267.4L1205.9 257.2L1202.6 258.1L1199 259.5L1193.4 260.3L1185.1 263.4L1179.8 258.1L1178.8 254.6L1176.5 251.1L1172.9 246.6L1167.9 241.3L1166.3 239.1L1163.3 230.3L1159.6 225.4L1159 218.8L1158.3 212.6L1154.3 203.8L1152 199.4L1149.7 194.1L1147.4 188.8L1144.1 179.9L1143.8 177.3L1145.1 179.9L1147.1 184.8L1149.7 186.6L1150.4 183.5L1151.7 179L1152 185.2L1154.7 188.3L1157.3 195L1160.3 200.7L1162.3 202.9L1165.6 210.4L1166.3 215.3L1169.6 222.8L1172.5 229.4L1176.8 236L1177.8 242.2L1179.5 249.3L1180.1 253.3L1185.1 252.8L1191.7 249.7L1197.3 247.5L1200.6 244.4L1206.6 241.8L1209.2 238.7L1214.9 234.7L1219.5 230.7L1223.8 228.1L1227.4 224.6L1230.1 218.8L1234 210.4L1230.4 205.1L1226.8 204.2L1222.8 199.4L1222.5 193.2L1219.8 196.7L1216.9 200.7L1212.9 202.5L1208.3 203.3L1206.6 201.1L1206.9 196.7L1205.9 194.1L1204.3 196.3L1203.3 198L1202 192.7L1200 189.7L1197 185.2L1195 179.9L1196.7 177.3L1200 176.8L1203 179.9L1204.6 182.1L1206.6 186.1L1210.2 188.3L1214.9 191.4L1219.8 191L1222.5 189.2L1225.8 195L1228.1 196.3L1236.7 197.6L1242.3 198.5L1249.6 198L1256.5 197.2L1258.5 200.3L1259.5 203.8L1262.5 205.6L1266.1 208.2L1268.4 209.5L1264.8 210.9L1267.1 214.8L1270.8 217.9L1274.4 215.3L1276.4 214.4L1277 220.1L1277.4 225.9L1279 234.7L1280.3 241.3L1282.7 248.4L1284 254.2L1286 259.5L1288.3 265.6L1289.6 270.5L1292.6 273.6L1294.9 270.1L1297.2 267.4L1298.5 263.9L1300.2 258.6L1301.8 251.5L1301.5 243.1L1304.2 239.1L1305.8 236.9L1308.5 235.6L1311.8 231.2L1315.7 225.9L1320 221.9L1322.7 219.3L1324 214.4L1328 214L1330.6 213.1L1334.9 212.2L1337.2 209.5L1339.9 210.9L1340.5 215.7L1342.8 219.3L1345.8 223.7L1348.5 229.9L1348.1 238.3L1351.4 240L1354.8 236.5L1359.1 236.5L1359.7 243.6L1361 249.7L1362.4 256.4L1362 265.2L1361.4 272.7L1363 274L1365.7 280.2L1368 285.5L1369 291.7L1371.3 296.6L1374.6 299.7L1378.9 303.6L1380.9 302.8L1378.6 294.8L1378.2 289.5L1377.2 286L1374.3 282.4L1371.3 278.9L1369 277.6L1368 272.7L1366.7 267.4L1364.3 263L1365.7 257.7L1366.7 253.7L1367.3 250.6L1368.6 249.7L1370 251.9L1372.3 253.3L1374.6 255.5L1376.6 258.1L1378.6 262.5L1381.5 263.4L1382.9 267L1382.9 271.4L1384.5 270.9L1389.1 267.4L1390.5 263.9L1393.4 262.1L1396.4 259.5L1397.4 255.5L1397.7 248.4L1396.1 242.2L1394.1 238.3L1390.8 234.7L1388.2 229.9L1385.8 226.8L1385.8 223.2L1387.8 219.7L1389.1 217.5L1391.5 215.3L1393.4 214.4L1396.1 214L1398.7 214.4L1399.4 216.6L1400.7 219.7L1401.7 218.4L1401.7 215.3L1405 214L1408.7 213.1L1411.3 211.3L1413.9 210.9L1418.2 208.6L1422.2 206L1425.2 203.3L1426.8 201.1L1429.2 198L1431.8 194.5L1432.5 191L1433.8 188.8L1436.1 185.7L1438.4 182.1L1439.4 177.3L1437.4 175.5L1436.4 174.2L1439.1 171.5L1437.8 168.9L1436.1 165.4L1434.8 161.4L1434.1 157.8L1431.1 155.6L1432.5 152.1L1434.5 149.9L1437.1 147.7L1440.4 146.4L1441.7 144.1L1437.8 143.3L1434.1 143.3L1431.5 145.5L1429.5 144.1L1428.2 141.1L1425.2 138.8L1425.5 136.6L1428.2 136.2L1430.8 135.3L1432.1 132.7L1435.8 130L1438.1 128.7L1440.4 130L1439.1 133.1L1437.4 135.3L1438.4 137.5L1440.7 135.3L1443.1 134L1447.7 132.7L1449 134.4L1450.3 138L1449.7 141.1L1452.3 142.4L1454.6 143.3L1455 145.9L1454.6 149.4L1455 153.4L1454.3 156.5L1457.6 156.1L1461.2 155.2L1463.2 153.9L1464.2 150.3L1464.2 145.9L1462.9 142.4L1461.2 138.8L1457.9 135.8L1458.3 133.5L1461.9 131.8L1465.2 128.7L1465.5 124.7L1468.2 122.1L1470.2 121.2L1472.5 119L1474.5 120.3L1476.8 120.7L1480.1 119L1484.4 115.4L1488.7 110.6L1492.7 104.4L1494.6 100.4L1497.3 96L1500.3 92L1500.9 87.2L1501.3 82.3L1503.6 78.8L1503.9 74.3L1500.9 73L1497.6 70.4L1494.3 69.9L1490.7 70.8L1489.3 68.2L1483.4 67.7L1488 63.7L1492.7 60.2L1498.6 54.9L1503.6 50.5L1507.5 47.8L1511.2 47L1517.5 47L1524.1 47.4L1529 46.1L1535 46.1L1539.9 48.7L1545.6 48.3L1548.9 47.4L1549.2 43.4L1553.8 39M1558.8 35.5L1556.2 42.1L1554.2 46.1L1553.8 53.1L1552.8 56.7L1551.5 62L1550.9 68.6L1552.8 77.4L1554.5 84.1L1558.1 81.4L1560.8 75.7L1565.1 73.9L1565.7 68.6L1571.7 65.9L1572 61.5L1576.3 61.1L1574 54L1576.7 50.5L1580.3 45.2L1583.6 43.4L1586.2 42.1L1598.5 44.3L1605.1 39.9M1508.2 69.5L1506.9 73.9L1506.5 80.5L1506.2 88.5L1506.2 97.3L1505.6 103.9L1505.6 106.6L1507.5 103.9L1509.2 103.1L1510.8 105.7L1510.5 101.7L1508.2 100L1509.5 92.5L1513.2 92L1509.9 84.1L1510.2 75.7L1508.2 69.5M1505.6 108.4L1504.6 110.6L1504.6 115L1503.9 118.1L1500.9 118.5L1500.3 121.2L1499.3 122.5L1501.6 124.7L1503.2 124.7L1504.2 121.6L1507.2 122.9L1510.2 124.3L1513.5 119.8L1516.8 119.4L1517.8 118.1L1516.5 114.1L1513.2 114.5L1509.2 112.3L1505.9 108.8L1505.6 108.4M1502.2 126L1504.2 126.5L1503.9 130L1505.9 134.4L1504.6 137.5L1502.6 140.2L1502.6 144.6L1501.6 148.1L1501.9 151.7L1500.6 154.3L1498.9 155.2L1498.6 152.5L1496.6 153.9L1495.6 156.5L1493.3 156.5L1490.3 156.5L1489 157.8L1488 159.6L1485.4 161.8L1483.1 159.2L1483.7 156.5L1480.1 156.1L1477.1 157.4L1473.8 158.3L1469.5 159.2L1469.8 157.4L1473.1 154.8L1476.1 152.1L1480.8 152.1L1484.7 152.1L1486 150.8L1488.7 146.8L1490 143.7L1490 146.8L1494.3 144.1L1497 141.1L1498.6 137.1L1499.3 132.7L1498.9 129.6L1500.3 126.9L1502.2 126M1474.1 161.8L1475.8 164.5L1478.4 161.8L1480.4 162.3L1481.7 159.6L1480.1 157.8L1477.1 158.7L1475.1 159.6L1474.1 161.8M1465.5 161.8L1469.2 159.6L1471.2 160.9L1472.2 164.5L1471.2 168.4L1469.5 171.5L1467.9 172.4L1466.9 169.8L1466.9 166.7L1465.5 164.9L1464.9 162.7L1465.5 161.8M1433.5 207.8L1435.1 211.7L1436.1 212.2L1437.8 207.3L1439.1 201.6L1439.7 198.9L1438.1 197.6L1436.1 199.8L1434.1 203.3L1433.5 207.8M1395.4 224.6L1396.4 227.6L1398.7 229L1401.4 227.2L1403.4 222.8L1402.4 220.6L1399.7 220.6L1397.7 221L1395.4 224.6M1300.5 266.5L1301.8 266.1L1303.8 270.1L1305.5 273.6L1307.1 278.5L1306.1 281.1L1302.8 283.3L1301.2 281.5L1300.2 277.1L1300.2 271.8L1300.5 266.5M1199.3 362.4L1201.3 370.8L1203 377.9L1201 384.5L1199.7 388.9L1197 399.1L1194.7 408.3L1192 419.4L1186.8 422L1182.1 419.4L1180.5 412.3L1179.8 406.6L1181.1 402.2L1182.8 397.3L1181.8 388.9L1181.8 385.4L1183.8 381L1189.4 379.2L1192.7 374.8L1194.7 371.7L1196 368.1L1199.3 362.4M1351.4 284.6L1355.1 286.4L1358.7 286.4L1362.7 292.6L1365.7 296.1L1368.6 300.1L1371.6 301.9L1375.3 305.8L1378.2 311.6L1381.5 316L1383.2 319.5L1386.2 322.6L1386.8 328.4L1386.2 335L1382.2 335.4L1378.6 331L1374.6 327.1L1371.3 321.3L1369 315.1L1366 309.4L1364 305.4L1362.4 301.4L1359.4 297.9L1356.7 293.5L1353.8 289.9L1351.4 284.6M1384.2 339.4L1387.2 335.9L1392.1 336.8L1395.4 339L1401.4 339.9L1404 339L1408.7 339.9L1411.6 341.2L1414.6 343.4L1414.6 347.4L1410.6 346L1405 346L1400.1 345.2L1395.8 343.4L1391.5 342.5L1388.2 342.1L1384.8 339.4L1384.2 339.4M1414.9 345.2L1417.3 345.2L1418.9 346.5L1417.3 348.3L1415.3 346.5L1414.9 345.2M1419.6 346.5L1421.9 346L1421.9 348.7L1419.9 348.3L1419.6 346.5M1422.5 346.9L1425.9 345.2L1429.2 346L1430.2 347.4L1426.5 348.3L1423.5 349.1L1422.5 346.9M1432.5 347.4L1435.8 346L1439.7 346.9L1442.7 345.6L1442.1 347.8L1436.4 348.7L1432.8 348.3L1432.5 347.4M1429.8 351.8L1433.8 350.9L1435.8 354L1432.5 353.1L1429.8 351.8M1444.7 354.9L1448 351.8L1450.3 349.1L1456.9 346.5L1454.6 348.7L1449.7 351.8L1446.4 355.3L1444.7 354.9M1398.7 300.5L1401.1 301.9L1404 301L1405.4 297.9L1410 295.2L1413.3 289.9L1416.6 287.3L1418.2 286L1420.2 282.9L1422.5 278.5L1425.2 280.7L1426.8 283.8L1430.5 286.4L1427.5 289.1L1426.2 291.3L1425.2 295.2L1426.5 299.2L1429.2 304.5L1426.2 305.8L1424.9 309.4L1424.9 312.9L1422.5 315.1L1421.6 319.5L1420.9 324.8L1419.6 327.1L1415.3 325.3L1414.9 324.4L1410 323.5L1405.7 322.6L1401.1 322.6L1400.4 317.3L1398.1 313.4L1397.1 309.4L1396.4 304.1L1398.7 300.5M1430.8 333.7L1431.8 327.1L1431.5 324L1429.5 321.3L1431.1 316.4L1432.5 309.4L1433.5 306.7L1436.1 303.6L1441.4 305L1447.7 305.4L1450.3 302.8L1448 307.6L1443.4 307.2L1438.4 307.2L1435.1 308.9L1434.5 313.4L1438.1 313.8L1441.4 312.9L1444 313.4L1441.4 316.9L1437.4 317.8L1440.1 322.2L1441.1 324.8L1443.4 327.1L1441.7 329.7L1441.1 332.8L1437.4 329.7L1436.4 326.6L1435.1 321.8L1434.5 325.3L1434.5 333.7L1430.8 333.7M1457.6 301L1459.6 303.6L1461.6 302.8L1459.6 306.7L1462.2 308.1L1460.2 311.1L1458.9 309.4L1457.9 312L1457.3 307.2L1459.3 304.5L1457.6 301M1459.6 324.4L1463.9 321.8L1468.8 322.6L1467.2 325.3L1462.2 324.4L1459.6 324.4M1453 323.5L1455.9 323.1L1456.9 325.7L1453.6 326.2L1453 323.5M1469.5 315.1L1472.8 311.1L1477.8 312.5L1480.1 313.8L1480.1 320.4L1482.7 324L1487 319.1L1491 316L1495.3 317.8L1501.3 320.4L1505.9 323.1L1510.8 324.8L1514.5 327.1L1518.5 331.5L1519.1 334.1L1524.1 335.9L1525.1 339L1523.1 342.5L1526.1 345.2L1527.7 349.1L1530 351.4L1532.3 354L1535 354.9L1531.3 355.8L1526.4 354L1522.4 350.9L1519.4 345.6L1514.2 343L1511.2 346L1509.9 349.1L1507.9 350.5L1502.6 349.6L1498.6 345.2L1495 346L1492.7 342.5L1494.6 339.4L1492 332.8L1486 329.7L1482.1 327.1L1477.8 326.6L1475.5 324L1472.8 321.8L1477.1 320L1473.5 318.7L1470.5 316L1469.5 315.1M1526.7 334.1L1530.7 333.7L1534 333.7L1537.3 331L1539.6 328.4L1538.6 333.2L1535.6 336.3L1531.3 337.2L1527 335.4L1526.7 334.1M1534 320.9L1537.6 323.5L1540.3 326.2L1542.3 329.7L1541.3 330.6L1539 327.1L1535.6 323.1L1534 320.9M1547.6 332.8L1550.2 335.4L1551.9 339L1549.9 339.4L1547.9 335.4L1547.6 332.8M1554.2 341.6L1557.1 342.1L1558.8 344.3L1556.5 345.6L1554.2 341.6M1564.1 346.5L1568.1 349.6L1567.4 352.7L1564.4 350.9L1564.1 346.5M1567.7 346.9L1570.4 351.8L1568.4 349.6L1567.7 346.9M1570 354.4L1573 356.2L1571.4 357.1L1570 354.4M1588.6 375.7L1589.6 379.2L1587.9 378.3L1588.6 375.7M1590.2 381L1592.9 383.6L1593.5 388L1592.5 387.6L1590.2 381M1578.6 398.6L1581.9 400.8L1585.3 404.4L1588.6 407.9L1586.9 408.3L1582.9 404.8L1579.6 401.3L1578.6 398.6M1622.6 386.7L1624.9 385.8L1626.9 388L1625.9 389.8L1623 389.3L1622.6 386.7M1627.9 381.8L1631.2 381.4L1631.5 383.6L1628.2 384L1627.9 381.8M1507.5 356.7L1509.2 361.5L1510.8 366.4L1510.8 371.2L1514.2 372.6L1516.8 375.7L1517.5 381.4L1519.1 385.8L1520.1 392.9L1524.1 395.5L1528.4 399.5L1530.7 404.4L1534 408.3L1536.3 414.5L1540.6 419.8L1542.6 423.8L1542.6 430.9L1544.2 435.3L1542.9 441.9L1541.9 448.5L1540.6 453.4L1537.3 456.9L1536.3 459.2L1535 463.1L1533 467.1L1532.3 474.2L1530.4 476.8L1525.7 476.4L1522.4 478.6L1520.4 482.1L1517.1 479.5L1514.5 478.1L1510.8 480.8L1507.2 479L1502.6 477.7L1499.9 475.5L1498.3 472L1497.3 467.1L1494.3 466.7L1493 464L1494.3 461.8L1493 457.8L1492 456.1L1491 459.2L1489 464L1492 466.7L1488 467.5L1489.3 464.9L1486 464L1484.7 463.1L1483.1 460.5L1483.4 455.6L1480.1 453.4L1477.4 451.6L1473.5 450.8L1469.5 448.5L1462.9 449.4L1456.9 452.1L1452.6 452.5L1447 455.2L1445 459.2L1439.7 459.2L1433.1 459.6L1429.8 461.4L1425.9 464.5L1421.2 464L1416.6 460.9L1417.3 457.8L1418.6 456.5L1418.9 453L1418.9 448.5L1416.6 442.8L1416.3 437.5L1413.9 432.2L1412 426.9L1411.3 422L1412.3 417.6L1411.3 414.1L1412.6 407.9L1413.9 405.7L1416.6 404.4L1422.2 400.4L1425.5 400.8L1429.5 399.1L1433.1 397.3L1436.8 395.5L1438.8 391.1L1440.4 388.5L1440.7 384.5L1443.1 382.3L1445 385.4L1445.7 381.4L1448 377.9L1450.3 373.9L1453 372.1L1455.9 370.3L1458.9 372.6L1460.6 375.2L1464.5 375.2L1464.9 371.2L1466.9 367.7L1466.9 364.6L1469.2 363.3L1472.5 359.7L1474.8 360.2L1474.8 362.8L1477.8 361.5L1481.1 362.4L1484.1 363.7L1486 362.4L1488.7 363.3L1488 368.1L1485.7 368.1L1484.1 374.8L1487 378.3L1491.7 381.4L1495 384L1497 386.3L1499.9 387.6L1501.9 386.3L1503.6 381.8L1504.6 375.7L1504.2 369L1504.9 364.2L1505.9 358L1507.5 356.7M1607.4 461.4L1610.1 464L1612.7 467.5L1614.4 472L1616.7 472.8L1618 475.1L1621.6 476.8L1624.9 475.5L1626.6 475.9L1624.9 480.4L1622.3 482.6L1621.3 484.3L1619 488.3L1615.7 493.2L1614 491.8L1615.7 488.8L1613.4 485.2L1611 482.6L1613.7 479.9L1614 475.5L1612.7 472.8L1610.4 467.1L1607.4 461.4M1607.4 488.3L1611 490.1L1612.7 492.7L1611.7 496.3L1606.7 502.9L1601.8 499.4L1603.4 494.1L1605.4 490.1L1607.4 488.3M1435.1 227.6L1437.1 227.2L1440.4 227.6L1440.7 233.8L1439.7 237.4L1438.4 239.6L1437.8 243.1L1438.8 246.6L1440.7 246.6L1443.4 248.4L1446.4 251.9L1446.7 253.7L1444 251.9L1441.7 250.2L1438.8 248L1436.1 248.4L1435.1 246.2L1434.5 243.1L1432.8 239.6L1434.1 237.4L1434.5 232.1L1435.1 227.6M1434.5 249.7L1437.1 250.2L1438.1 254.2L1436.4 255L1434.5 249.7M1439.7 256.4L1443.1 258.6L1442.1 262.5L1439.7 262.5L1439.4 258.6L1439.7 256.4M1441.1 262.1L1443.7 261.2L1445 264.8L1443.1 269.2L1441.1 266.1L1441.1 262.1M1444.4 260.3L1446.4 261.7L1446.4 265.2L1444.7 267.4L1444.4 260.3M1447.4 253.7L1451.3 254.6L1452 260.3L1449.7 259.9L1447.4 253.7M1447.7 258.6L1449.7 259.5L1450.3 264.8L1449 264.8L1447.7 258.6M1423.9 272.3L1428.2 267.9L1431.5 263.4L1430.8 260.3L1427.2 266.1L1423.9 272.3M1439.4 278.5L1440.7 274.9L1444.4 274.9L1446.4 273.2L1449 270.1L1451.3 266.5L1454 270.1L1455 276.2L1453.6 281.5L1451 284.6L1446.7 280.7L1446.4 276.7L1442.4 277.1L1439.4 278.5M1734.1 39.9L1734.1 41.6L1740.7 43.4L1747.3 43L1753.9 44.3L1760.5 45.2L1764.8 46.5L1770.4 49.6L1775.4 51.8L1778.7 55.8L1783 61.1L1786.6 65.1L1790.3 69L1795.2 73L1798.6 78.3L1802.9 83.2L1806.2 87.2L1810.8 92L1814.4 95.5L1816.7 105.3L1816.4 112.3L1815.4 119.4L1815.4 124.3L1816.4 130.9L1817.7 137.1L1821.4 141.9L1822.7 146.4L1823.7 147.7L1827 153L1828.3 157L1832 159.2L1835.3 160.5L1838.6 163.6L1839.6 165.8L1841.5 170.2L1843.2 175.1L1846.2 181.3L1849.2 186.6L1851.8 189.2L1855.1 192.3L1856.8 197.6L1859.4 201.6L1862.4 206L1863.4 208.2L1864.4 205.1L1862.4 201.1L1859.7 195.4L1857.4 190.1L1854.1 184.4L1851.8 179L1848.2 173.3L1847.2 169.3L1849.5 170.7L1853.1 175.1L1856.4 181.3L1860.1 186.1L1864 191.4L1867 196.3L1871.3 201.1L1874.9 206.9L1877.9 212.2L1878.9 217.5L1877.9 221L1881.2 224.6L1885.2 227.2L1891.1 229.9L1896.4 235.2L1902.1 237.8L1907.7 240L1912 237.8L1915.6 238.7L1920.6 243.1L1924.2 246.6L1927.5 248.4L1932.5 250.6L1936.8 251.1L1939.1 254.2L1942.4 259.5L1943.4 262.5L1943.1 265.2L1945.7 266.1L1949 270.9L1950.7 273.2L1955.3 274L1960.6 277.1L1961.6 274.5L1963.9 270.1L1966.2 270.5L1968.5 273.2L1970.2 276.7L1971.2 280.7L1971.2 287.3L1971.8 292.1L1969.5 298.3L1966.2 301.4L1962.6 305L1961.9 310.7L1959.9 314.2L1960.6 319.1L1962.6 320.9L1961.6 324L1958.3 326.2L1958 330.1L1958.9 333.7L1959.6 336.8L1962.6 341.6L1966.2 348.3L1968.9 354.4L1971.8 362.4L1974.2 368.1L1974.8 372.1L1978.1 377.4L1982.8 382.3L1987.1 385.4L1990.4 388.5L1994.3 391.1L1995 397.7L1994.7 404.4L1994 413.6L1993.7 419.8L1993 427.8L1991 435.3L1990.7 441.9L1990.4 448.5L1990 455.2L1989 460.5L1987.4 465.8L1985.7 470.6L1984.7 474.2L1983.7 479.5L1984.4 483.9L1983.7 490.5M2031.7 278.5L2025.1 271.4L2021.8 266.1L2020.8 262.5L2016.8 262.5L2011.9 264.3L2005.2 262.5L2000.3 263L1997 258.6L1995.7 255.9L1993.7 258.6L1990.4 260.8L1989.7 264.3L1988.7 267.4L1989.4 263L1988 259L1991 255.5L1988 254.2L1984.7 257.2L1981.4 259.5L1978.1 261.7L1977.1 264.8L1974.8 268.7L1972.2 272.7L1971.2 270.1L1968.2 267.4L1963.9 267.4L1959.6 269.2L1955.6 269.2L1953 266.5L1950.3 261.7L1950 256.4L1950.3 249.7L1951.3 243.1L1949 239.6L1944.1 239.1L1939.1 239.1L1934.5 239.6L1934.8 236.5L1935.1 232.1L1936.8 228.5L1937.8 223.2L1939.8 218.4L1939.8 214.4L1935.8 214.4L1930.5 215.3L1928.5 217.9L1927.9 222.8L1923.2 227.2L1917.6 228.1L1914.3 228.5L1909 225L1907 220.1L1904.7 216.6L1903.4 211.3L1903.4 203.3L1904.4 195.4L1904.7 191L1905.4 186.1L1909.3 183.5L1913.3 179.9L1916.9 177.7L1920.9 178.2L1923.6 178.6L1927.5 179.9L1931.2 181.3L1930.8 177.3L1934.1 175.5L1939.1 175.1L1944.1 176L1948.4 176.8L1950.3 178.6L1953 183L1953.3 187.9L1955.6 192.7L1957.3 198L1960.3 197.6L1961.9 192.3L1961.9 187.9L1960.3 182.6L1957.6 176L1957.3 172.4L1959.6 168.9L1962.6 168L1965.9 164L1969.9 160.1L1972.8 157.8L1975.5 156.1L1977.1 153.9L1976.1 150.3L1975.5 146.4L1975.5 143.3L1977.5 139.7L1978.8 138L1982.1 135.3L1982.1 130.5L1985.4 129.6L1988.7 127.8L1995 125.1L1993.7 122.1L1992.7 119.4L1995.3 116.3L2000.3 113.7L2005.2 112.3L2008.5 110.6L2006.9 108.4L2008.5 106.2L2008.5 103.9L2009.5 99.5L2013.8 96L2015.2 93.8L2013.5 92L2008.5 89.8L2001.9 88.5L1997 87.2L1993.7 86.3L1998.6 84.1L2005.2 83.2L2011.9 81.9L2018.5 79.6L2023.4 76.6L2027.7 70.8L2030 64.2L2031.7 57.6M2009.5 117.2L2011.9 115.9L2015.2 114.1L2018.5 111.5L2023.4 108.4L2027.1 102.2L2025.1 101.7L2021.8 106.2L2017.8 107L2016.8 103.9L2015.2 104.8L2013.5 108.4L2011.2 111.5L2009.5 117.2M2031 99.1L2033.4 100.9L2036.7 99.1L2038.3 103.1L2048.2 99.5L2043.3 90.7L2038.3 86.3L2035 81.4L2031 84.1L2031.7 90.7L2030.4 95.1L2031 99.1M1912.6 39.9L1912.6 44.3L1914.3 48.7L1921.2 57.6L1929.2 58.4L1935.8 60.2L1945.7 62.9L1954.3 65.1L1956.6 68.6L1958.3 75.2L1960.9 82.7L1962.9 81.9L1964.9 78.8L1964.2 73L1963.2 68.2L1970.5 62.9L1970.5 57.6L1967.9 51.4L1964.9 45.6L1968.9 42.1L1970.5 39.9M1996.3 39.9L1996.3 44.3L1998.3 47.4L2003.3 51.8L2008.9 48.3L2010.9 44.3L2011.9 39.9M2013.5 39.9L2014.8 44.3L2020.5 49.6L2023.4 55.3L2025.4 59.3L2028.4 62L2033.4 65.1M1856.4 47.8L1861.4 46.5L1868 47.4L1869.7 48.7L1864.7 49.2L1859.7 50L1856.4 47.8M1886.2 57.6L1887.8 60.6L1889.5 58.4L1888.8 53.6L1886.9 52.3L1886.2 57.6M1689.4 39.9L1691.4 44.7L1693.4 47L1699.3 46.5L1705 49.2L1701 54.5L1696 57.6L1691.4 60.6L1686.1 63.7L1681.8 65.9L1679.8 67.3L1681.8 68.6L1687.8 66.4L1694.4 63.3L1702.7 59.3L1710.9 55.8L1717.5 50.5L1723.5 45.6L1727.5 43.4L1729.1 39.9M1715.9 56.7L1719.2 58L1723.5 54.9L1722.8 51.8L1719.5 50.5L1716.2 53.1L1715.9 56.7M1671.2 73L1676.2 71.2L1677.8 69.5L1674.5 70.4L1671.2 73M1663 76.1L1667.9 75.2L1666.3 73.9L1663 76.1M1651.4 79.6L1656.4 78.3L1653 77.4L1651.4 79.6M1946 212.6L1948.7 209.5L1952.3 207.8L1955.6 207.3L1960.6 207.3L1963.9 207.8L1967.2 209.5L1970.5 211.3L1973.8 214.4L1978.1 216.6L1981.4 220.1L1977.5 221.5L1972.8 221.5L1970.5 219.3L1967.9 214.8L1963.9 214L1960.6 213.1L1957.3 212.6L1954 211.7L1949 210.4L1946 212.6M1987.4 228.1L1991.4 229L1993.7 228.5L1997.6 229L2000.3 226.8L1997.3 223.2L1993 221.5L1988.7 221.9L1986.4 222.3L1987.7 224.6L1987.4 228.1M1967.5 228.1L1970.5 227.6L1974.5 229L1972.8 230.7L1969.5 230.3L1967.5 228.1M2004.6 228.1L2009.9 228.1L2009.5 229.9L2004.9 229.9L2004.6 228.1M1968.9 191.4L1970.5 190.5L1971.5 192.3L1969.9 193.6L1968.9 191.4M1969.9 201.1L1970.5 198.9L1969.5 199.8L1969.9 201.1M1973.8 203.3L1975.5 205.6L1977.1 210L1975.5 207.8L1973.8 203.3M1921.9 103.1L1925.9 102.6L1930.8 103.5L1935.8 103.9L1939.1 104.4L1946.7 103.9L1945.7 101.7L1944.1 98.6L1939.1 95.1L1934.1 93.8L1929.2 95.1L1924.2 100.4L1921.9 103.1M1937.1 106.2L1939.1 107.5L1940.8 109.7L1940.1 115L1941.1 119.4L1941.1 123.4L1938.8 125.6L1937.1 123.8L1936.5 119.4L1936.8 115L1935.8 111.5L1937.1 106.2M1948 106.2L1952.3 105.3L1957.3 105.7L1960.9 109.2L1960.6 111.9L1956.3 112.8L1956.3 117.2L1955 119.4L1954 116.8L1951 115L1951 110.6L1948 106.2M1951.7 125.1L1955.6 126L1958.9 123.8L1962.9 121.2L1965.9 119.8L1963.9 120.7L1958.9 121.6L1955.6 123.8L1951.7 125.1M1963.2 118.1L1968.2 118.5L1973.5 117.2L1973.8 114.5L1968.9 115.4L1965.2 116.3L1963.2 118.1M1905.4 86.3L1907.4 83.2L1905.4 78.3L1904.4 73L1902.7 71.7L1901.4 75.2L1902.7 79.6L1904.4 84.1L1905.4 86.3M1142.1 310.3L1146.4 308.1L1148.7 310.7L1150.4 313.8L1148.1 319.1L1145.4 320.9L1141.5 318.2L1141.1 313.8L1142.1 310.3M1132.9 324L1134.2 330.6L1136.5 338.1L1138.8 344.7L1137.5 347.4L1134.8 340.3L1132.9 333.7L1132.9 324M1148.7 351.4L1151.4 358L1151.4 364.6L1153 371.2L1151.4 373L1149.7 366.8L1148.7 360.2L1148.7 351.4M1155.3 289.5L1157 293.9L1155.3 298.3L1154.7 293.9L1155.3 289.5M1710.9 211.3L1712.6 212.6L1711.6 213.1L1710.9 211.3M1716.2 213.5L1718.5 214L1718.2 215.3L1716.5 215.3L1716.2 213.5M1709.9 221L1711.6 221L1714.6 222.3L1714.2 225.4L1711.9 225.9L1710.9 223.7L1709.9 221" fill="none" stroke="#000" stroke-width="1.3" stroke-linejoin="round"/>
</g>
<rect x="1134.5" y="44" width="893.2" height="441.8" fill="none" stroke="#000" stroke-width="2.2"/>
<line x1="1123" y1="44" x2="1134.5" y2="44" stroke="#000" stroke-width="2.2"/>
<text x="1111" y="55.4" font-size="31.5" text-anchor="end">60N</text>
<line x1="1123" y1="132.4" x2="1134.5" y2="132.4" stroke="#000" stroke-width="2.2"/>
<text x="1111" y="143.8" font-size="31.5" text-anchor="end">40N</text>
<line x1="1123" y1="220.7" x2="1134.5" y2="220.7" stroke="#000" stroke-width="2.2"/>
<text x="1111" y="232.1" font-size="31.5" text-anchor="end">20N</text>
<line x1="1123" y1="309.1" x2="1134.5" y2="309.1" stroke="#000" stroke-width="2.2"/>
<text x="1111" y="320.5" font-size="31.5" text-anchor="end">EQ</text>
<line x1="1123" y1="397.4" x2="1134.5" y2="397.4" stroke="#000" stroke-width="2.2"/>
<text x="1111" y="408.8" font-size="31.5" text-anchor="end">20S</text>
<line x1="1123" y1="485.8" x2="1134.5" y2="485.8" stroke="#000" stroke-width="2.2"/>
<text x="1111" y="497.2" font-size="31.5" text-anchor="end">40S</text>
<line x1="1134.5" y1="485.8" x2="1134.5" y2="494.3" stroke="#000" stroke-width="2.2"/>
<text x="1134.5" y="522.8" font-size="31.5" text-anchor="middle">30E</text>
<line x1="1233.8" y1="485.8" x2="1233.8" y2="494.3" stroke="#000" stroke-width="2.2"/>
<text x="1233.8" y="522.8" font-size="31.5" text-anchor="middle">60E</text>
<line x1="1333" y1="485.8" x2="1333" y2="494.3" stroke="#000" stroke-width="2.2"/>
<text x="1333" y="522.8" font-size="31.5" text-anchor="middle">90E</text>
<line x1="1432.2" y1="485.8" x2="1432.2" y2="494.3" stroke="#000" stroke-width="2.2"/>
<text x="1432.2" y="522.8" font-size="31.5" text-anchor="middle">120E</text>
<line x1="1531.5" y1="485.8" x2="1531.5" y2="494.3" stroke="#000" stroke-width="2.2"/>
<text x="1531.5" y="522.8" font-size="31.5" text-anchor="middle">150E</text>
<line x1="1630.8" y1="485.8" x2="1630.8" y2="494.3" stroke="#000" stroke-width="2.2"/>
<text x="1630.8" y="522.8" font-size="31.5" text-anchor="middle">180</text>
<line x1="1730" y1="485.8" x2="1730" y2="494.3" stroke="#000" stroke-width="2.2"/>
<text x="1730" y="522.8" font-size="31.5" text-anchor="middle">150W</text>
<line x1="1829.2" y1="485.8" x2="1829.2" y2="494.3" stroke="#000" stroke-width="2.2"/>
<text x="1829.2" y="522.8" font-size="31.5" text-anchor="middle">120W</text>
<line x1="1928.5" y1="485.8" x2="1928.5" y2="494.3" stroke="#000" stroke-width="2.2"/>
<text x="1928.5" y="522.8" font-size="31.5" text-anchor="middle">90W</text>
<line x1="2027.8" y1="485.8" x2="2027.8" y2="494.3" stroke="#000" stroke-width="2.2"/>
<text x="2027.8" y="522.8" font-size="31.5" text-anchor="middle">60W</text>
<rect x="81.4" y="713.3" width="7.3" height="122.9" fill="#ee0000"/>
<rect x="92.9" y="836.2" width="9.8" height="11.6" fill="#2238ff"/>
<rect x="106.8" y="734.1" width="9.8" height="102.1" fill="#ee0000"/>
<rect x="120.8" y="794.7" width="9.8" height="41.6" fill="#ee0000"/>
<rect x="134.7" y="778.6" width="9.8" height="57.6" fill="#ee0000"/>
<rect x="148.7" y="795.9" width="9.8" height="40.3" fill="#ee0000"/>
<rect x="162.6" y="836.2" width="9.8" height="16.6" fill="#2238ff"/>
<rect x="176.6" y="836.2" width="9.8" height="43" fill="#2238ff"/>
<rect x="190.5" y="836.2" width="9.8" height="74.1" fill="#2238ff"/>
<rect x="204.5" y="836.2" width="9.8" height="3.5" fill="#2238ff"/>
<rect x="218.4" y="836.2" width="9.8" height="41.2" fill="#2238ff"/>
<rect x="232.4" y="836.2" width="9.8" height="4.7" fill="#2238ff"/>
<rect x="246.3" y="703" width="9.8" height="133.3" fill="#ee0000"/>
<rect x="260.3" y="689.3" width="9.8" height="147" fill="#ee0000"/>
<rect x="274.2" y="789.2" width="9.8" height="47.1" fill="#ee0000"/>
<rect x="288.2" y="733" width="9.8" height="103.2" fill="#ee0000"/>
<rect x="302.1" y="822" width="9.8" height="14.2" fill="#ee0000"/>
<rect x="316.1" y="836.2" width="9.8" height="10" fill="#2238ff"/>
<rect x="330" y="836.2" width="9.8" height="53.6" fill="#2238ff"/>
<rect x="344" y="771" width="9.8" height="65.3" fill="#ee0000"/>
<rect x="357.9" y="832.8" width="9.8" height="3.5" fill="#ee0000"/>
<rect x="371.9" y="836.2" width="9.8" height="58.2" fill="#2238ff"/>
<rect x="385.8" y="836.2" width="9.8" height="32.3" fill="#2238ff"/>
<rect x="399.8" y="836.2" width="9.8" height="63.1" fill="#2238ff"/>
<rect x="413.7" y="687" width="9.8" height="149.2" fill="#ee0000"/>
<rect x="427.7" y="817.5" width="9.8" height="18.8" fill="#ee0000"/>
<rect x="441.6" y="792" width="9.8" height="44.3" fill="#ee0000"/>
<rect x="455.6" y="792.3" width="9.8" height="44" fill="#ee0000"/>
<rect x="469.5" y="836.2" width="9.8" height="26.6" fill="#2238ff"/>
<rect x="483.5" y="836.2" width="9.8" height="52.9" fill="#2238ff"/>
<rect x="497.4" y="796.1" width="9.8" height="40.2" fill="#ee0000"/>
<rect x="511.4" y="836.2" width="9.8" height="12" fill="#2238ff"/>
<rect x="525.4" y="836.2" width="9.8" height="137.5" fill="#2238ff"/>
<rect x="539.3" y="797.8" width="9.8" height="38.5" fill="#ee0000"/>
<rect x="553.3" y="811.4" width="9.8" height="24.8" fill="#ee0000"/>
<rect x="567.2" y="836.2" width="9.8" height="109.1" fill="#2238ff"/>
<rect x="581.2" y="777.7" width="9.8" height="58.6" fill="#ee0000"/>
<rect x="595.1" y="730.1" width="9.8" height="106.1" fill="#ee0000"/>
<rect x="609.1" y="819.1" width="9.8" height="17.2" fill="#ee0000"/>
<rect x="623" y="836.2" width="9.8" height="60.2" fill="#2238ff"/>
<rect x="637" y="836.2" width="9.8" height="137" fill="#2238ff"/>
<rect x="650.9" y="836.2" width="9.8" height="67.9" fill="#2238ff"/>
<rect x="664.9" y="789.2" width="9.8" height="47.1" fill="#ee0000"/>
<rect x="678.8" y="836.2" width="9.8" height="11.1" fill="#2238ff"/>
<rect x="692.8" y="836.2" width="9.8" height="40.3" fill="#2238ff"/>
<rect x="706.7" y="836.2" width="9.8" height="67.3" fill="#2238ff"/>
<rect x="720.7" y="782.2" width="9.8" height="54" fill="#ee0000"/>
<rect x="734.6" y="836.2" width="9.8" height="90.1" fill="#2238ff"/>
<rect x="748.6" y="836.2" width="9.8" height="121.1" fill="#2238ff"/>
<rect x="762.5" y="763.8" width="9.8" height="72.4" fill="#ee0000"/>
<rect x="776.5" y="836.2" width="9.8" height="160" fill="#2238ff"/>
<rect x="790.4" y="791" width="9.8" height="45.2" fill="#ee0000"/>
<rect x="804.4" y="836.2" width="9.8" height="2.2" fill="#2238ff"/>
<rect x="818.3" y="808.9" width="9.8" height="27.3" fill="#ee0000"/>
<rect x="832.3" y="773.5" width="9.8" height="62.8" fill="#ee0000"/>
<rect x="846.2" y="836.2" width="9.8" height="85.9" fill="#2238ff"/>
<rect x="860.2" y="799" width="9.8" height="37.2" fill="#ee0000"/>
<rect x="874.1" y="827.3" width="9.8" height="8.9" fill="#ee0000"/>
<rect x="888.1" y="791.7" width="9.8" height="44.5" fill="#ee0000"/>
<rect x="902" y="836.2" width="9.8" height="66" fill="#2238ff"/>
<rect x="916" y="836.2" width="9.8" height="91.2" fill="#2238ff"/>
<rect x="929.9" y="820" width="9.8" height="16.2" fill="#ee0000"/>
<rect x="943.9" y="836.2" width="9.8" height="132" fill="#2238ff"/>
<rect x="957.8" y="836.2" width="9.8" height="55.4" fill="#2238ff"/>
<rect x="971.8" y="723.5" width="8" height="112.7" fill="#ee0000"/>
<polyline points="83.8,748.6 97.8,761.1 111.7,774.4 125.7,784.7 139.6,798.7 153.6,817.1 167.5,840.7 181.5,855.4 195.4,861.3 209.4,853.2 223.3,831.1 237.3,802.4 251.2,775.1 265.2,760.4 279.1,764 293.1,779.5 307,800.5 321,819.7 334.9,831.5 348.9,839.2 362.8,845.8 376.8,848 390.7,842.9 404.7,825.2 418.6,811.2 432.6,804.6 446.5,806.3 460.5,817.3 474.4,832.6 488.4,846.1 502.3,854.3 516.3,859.8 530.2,861.6 544.2,857 558.2,847.9 572.1,834 586.1,826.4 600,826.4 614,840.7 627.9,862 641.9,875.3 655.8,876 669.8,867.9 683.7,861.6 697.7,862 711.6,864.2 725.6,872.4 739.5,878.5 753.5,880.8 767.4,876 781.4,864.2 795.3,851.7 809.3,838.5 823.2,830 837.2,829.3 851.1,830.4 865.1,834 879,837.7 893,848.8 906.9,863.4 920.9,874.9 934.8,876.8 948.8,865 962.7,838.5 976.7,795" fill="none" stroke="#000" stroke-width="4.6" stroke-linejoin="round"/>
<rect x="83.8" y="615.2" width="892.9" height="442.1" fill="none" stroke="#000" stroke-width="2.2"/>
<line x1="72.3" y1="1057.3" x2="83.8" y2="1057.3" stroke="#000" stroke-width="2.2"/>
<text x="60.6" y="1068.7" font-size="31.5" text-anchor="end">&#8722;3</text>
<line x1="72.3" y1="983.6" x2="83.8" y2="983.6" stroke="#000" stroke-width="2.2"/>
<text x="60.6" y="995" font-size="31.5" text-anchor="end">&#8722;2</text>
<line x1="72.3" y1="909.9" x2="83.8" y2="909.9" stroke="#000" stroke-width="2.2"/>
<text x="60.6" y="921.3" font-size="31.5" text-anchor="end">&#8722;1</text>
<line x1="72.3" y1="836.2" x2="83.8" y2="836.2" stroke="#000" stroke-width="2.2"/>
<text x="60.6" y="847.6" font-size="31.5" text-anchor="end">0</text>
<line x1="72.3" y1="762.6" x2="83.8" y2="762.6" stroke="#000" stroke-width="2.2"/>
<text x="60.6" y="774" font-size="31.5" text-anchor="end">1</text>
<line x1="72.3" y1="688.9" x2="83.8" y2="688.9" stroke="#000" stroke-width="2.2"/>
<text x="60.6" y="700.3" font-size="31.5" text-anchor="end">2</text>
<line x1="72.3" y1="615.2" x2="83.8" y2="615.2" stroke="#000" stroke-width="2.2"/>
<text x="60.6" y="626.6" font-size="31.5" text-anchor="end">3</text>
<line x1="111.7" y1="1057.3" x2="111.7" y2="1066.3" stroke="#000" stroke-width="2.2"/>
<text x="111.7" y="1095.3" font-size="31.5" text-anchor="middle" textLength="77" lengthAdjust="spacingAndGlyphs">1950</text>
<line x1="251.2" y1="1057.3" x2="251.2" y2="1066.3" stroke="#000" stroke-width="2.2"/>
<text x="251.2" y="1095.3" font-size="31.5" text-anchor="middle" textLength="77" lengthAdjust="spacingAndGlyphs">1960</text>
<line x1="390.7" y1="1057.3" x2="390.7" y2="1066.3" stroke="#000" stroke-width="2.2"/>
<text x="390.7" y="1095.3" font-size="31.5" text-anchor="middle" textLength="77" lengthAdjust="spacingAndGlyphs">1970</text>
<line x1="530.2" y1="1057.3" x2="530.2" y2="1066.3" stroke="#000" stroke-width="2.2"/>
<text x="530.2" y="1095.3" font-size="31.5" text-anchor="middle" textLength="77" lengthAdjust="spacingAndGlyphs">1980</text>
<line x1="669.8" y1="1057.3" x2="669.8" y2="1066.3" stroke="#000" stroke-width="2.2"/>
<text x="669.8" y="1095.3" font-size="31.5" text-anchor="middle" textLength="77" lengthAdjust="spacingAndGlyphs">1990</text>
<line x1="809.3" y1="1057.3" x2="809.3" y2="1066.3" stroke="#000" stroke-width="2.2"/>
<text x="809.3" y="1095.3" font-size="31.5" text-anchor="middle" textLength="77" lengthAdjust="spacingAndGlyphs">2000</text>
<line x1="948.8" y1="1057.3" x2="948.8" y2="1066.3" stroke="#000" stroke-width="2.2"/>
<text x="948.8" y="1095.3" font-size="31.5" text-anchor="middle" textLength="77" lengthAdjust="spacingAndGlyphs">2010</text>
<rect x="1132.1" y="749.5" width="7.3" height="86.8" fill="#ee0000"/>
<rect x="1143.6" y="767.1" width="9.8" height="69.1" fill="#ee0000"/>
<rect x="1157.5" y="654.6" width="9.8" height="181.6" fill="#ee0000"/>
<rect x="1171.5" y="725.7" width="9.8" height="110.5" fill="#ee0000"/>
<rect x="1185.4" y="721.7" width="9.8" height="114.5" fill="#ee0000"/>
<rect x="1199.4" y="836.2" width="9.8" height="9.1" fill="#2238ff"/>
<rect x="1213.3" y="836.2" width="9.8" height="45" fill="#2238ff"/>
<rect x="1227.3" y="708.9" width="9.8" height="127.3" fill="#ee0000"/>
<rect x="1241.3" y="773.2" width="9.8" height="63.1" fill="#ee0000"/>
<rect x="1255.2" y="836.2" width="9.8" height="24.1" fill="#2238ff"/>
<rect x="1269.2" y="826" width="9.8" height="10.2" fill="#ee0000"/>
<rect x="1283.1" y="799.6" width="9.8" height="36.7" fill="#ee0000"/>
<rect x="1297.1" y="804.5" width="9.8" height="31.8" fill="#ee0000"/>
<rect x="1311" y="689.3" width="9.8" height="147" fill="#ee0000"/>
<rect x="1325" y="806.6" width="9.8" height="29.7" fill="#ee0000"/>
<rect x="1339" y="779" width="9.8" height="57.3" fill="#ee0000"/>
<rect x="1352.9" y="832.8" width="9.8" height="3.5" fill="#ee0000"/>
<rect x="1366.9" y="826" width="9.8" height="10.2" fill="#ee0000"/>
<rect x="1380.8" y="836.2" width="9.8" height="36" fill="#2238ff"/>
<rect x="1394.8" y="719.9" width="9.8" height="116.3" fill="#ee0000"/>
<rect x="1408.7" y="836.2" width="9.8" height="7.3" fill="#2238ff"/>
<rect x="1422.7" y="836.2" width="9.8" height="45" fill="#2238ff"/>
<rect x="1436.7" y="836.2" width="9.8" height="66" fill="#2238ff"/>
<rect x="1450.6" y="801.3" width="9.8" height="35" fill="#ee0000"/>
<rect x="1464.6" y="741.2" width="9.8" height="95.1" fill="#ee0000"/>
<rect x="1478.5" y="819.8" width="9.8" height="16.4" fill="#ee0000"/>
<rect x="1492.5" y="810.5" width="9.8" height="25.7" fill="#ee0000"/>
<rect x="1506.4" y="784.5" width="9.8" height="51.8" fill="#ee0000"/>
<rect x="1520.4" y="836.2" width="9.8" height="11.1" fill="#2238ff"/>
<rect x="1534.4" y="836.2" width="9.8" height="27.9" fill="#2238ff"/>
<rect x="1548.3" y="765.9" width="9.8" height="70.4" fill="#ee0000"/>
<rect x="1562.3" y="836.2" width="9.8" height="35" fill="#2238ff"/>
<rect x="1576.2" y="836.2" width="9.8" height="73.2" fill="#2238ff"/>
<rect x="1590.2" y="836.2" width="9.8" height="64.4" fill="#2238ff"/>
<rect x="1604.1" y="834.3" width="9.8" height="2" fill="#ee0000"/>
<rect x="1618.1" y="836.2" width="9.8" height="152.8" fill="#2238ff"/>
<rect x="1632.1" y="760.7" width="9.8" height="75.5" fill="#ee0000"/>
<rect x="1646" y="826" width="9.8" height="10.2" fill="#ee0000"/>
<rect x="1660" y="836.2" width="9.8" height="74.1" fill="#2238ff"/>
<rect x="1673.9" y="836.2" width="9.8" height="148.1" fill="#2238ff"/>
<rect x="1687.9" y="836.2" width="9.8" height="102.1" fill="#2238ff"/>
<rect x="1701.8" y="836.2" width="9.8" height="31" fill="#2238ff"/>
<rect x="1715.8" y="829.7" width="9.8" height="6.6" fill="#ee0000"/>
<rect x="1729.8" y="836.2" width="9.8" height="43.3" fill="#2238ff"/>
<rect x="1743.7" y="836.2" width="9.8" height="71.8" fill="#2238ff"/>
<rect x="1757.7" y="836.2" width="9.8" height="168" fill="#2238ff"/>
<rect x="1771.6" y="758.7" width="9.8" height="77.5" fill="#ee0000"/>
<rect x="1785.6" y="836.2" width="9.8" height="73.7" fill="#2238ff"/>
<rect x="1799.5" y="836.2" width="9.8" height="99.3" fill="#2238ff"/>
<rect x="1813.5" y="836.2" width="9.8" height="30.8" fill="#2238ff"/>
<rect x="1827.5" y="836.2" width="9.8" height="81.1" fill="#2238ff"/>
<rect x="1841.4" y="763.1" width="9.8" height="73.2" fill="#ee0000"/>
<rect x="1855.4" y="753.1" width="9.8" height="83.2" fill="#ee0000"/>
<rect x="1869.3" y="836.2" width="9.8" height="9.1" fill="#2238ff"/>
<rect x="1883.3" y="836.2" width="9.8" height="55.4" fill="#2238ff"/>
<rect x="1897.2" y="836.2" width="9.8" height="92.8" fill="#2238ff"/>
<rect x="1911.2" y="806.9" width="9.8" height="29.4" fill="#ee0000"/>
<rect x="1925.2" y="836.2" width="9.8" height="31.7" fill="#2238ff"/>
<rect x="1939.1" y="836.2" width="9.8" height="48" fill="#2238ff"/>
<rect x="1953.1" y="836.2" width="9.8" height="74.4" fill="#2238ff"/>
<rect x="1967" y="798.7" width="9.8" height="37.6" fill="#ee0000"/>
<rect x="1981" y="836.2" width="9.8" height="36.3" fill="#2238ff"/>
<rect x="1994.9" y="836.2" width="9.8" height="32.1" fill="#2238ff"/>
<rect x="2008.9" y="836.2" width="9.8" height="17.7" fill="#2238ff"/>
<rect x="2022.8" y="791.4" width="8" height="44.9" fill="#ee0000"/>
<polyline points="1134.5,740.3 1148.5,734.5 1162.4,733.9 1176.4,743 1190.3,762.2 1204.3,781.4 1218.2,793.2 1232.2,799.3 1246.2,802.9 1260.1,805.6 1274.1,804.5 1288,796.5 1302,787.4 1315.9,781.4 1329.9,785.4 1343.9,796.5 1357.8,807.8 1371.8,816 1385.7,821.1 1399.7,825.1 1413.6,831.5 1427.6,837 1441.6,833.3 1455.5,821.5 1469.5,811.2 1483.4,805.7 1497.4,806.8 1511.3,814.1 1525.3,824.2 1539.3,833.7 1553.2,843.4 1567.2,857 1581.1,870.1 1595.1,877.4 1609,877.4 1623,873.5 1637,871.2 1650.9,877.4 1664.9,890.8 1678.8,902.6 1692.8,901.1 1706.7,895.7 1720.7,888 1734.7,888 1748.6,891.4 1762.6,892 1776.5,890.8 1790.5,888.4 1804.4,883 1818.4,872 1832.4,853.2 1846.3,838.5 1860.3,831.8 1874.2,839.9 1888.2,853.4 1902.1,863.4 1916.1,867.6 1930.1,868.4 1944,867.6 1958,864.3 1971.9,859.2 1985.9,853.4 1999.8,844.3 2013.8,832.4 2027.8,817.8" fill="none" stroke="#000" stroke-width="4.6" stroke-linejoin="round"/>
<rect x="1134.5" y="615.2" width="893.2" height="442.1" fill="none" stroke="#000" stroke-width="2.2"/>
<line x1="1123" y1="1057.3" x2="1134.5" y2="1057.3" stroke="#000" stroke-width="2.2"/>
<text x="1111.3" y="1068.7" font-size="31.5" text-anchor="end">&#8722;3</text>
<line x1="1123" y1="983.6" x2="1134.5" y2="983.6" stroke="#000" stroke-width="2.2"/>
<text x="1111.3" y="995" font-size="31.5" text-anchor="end">&#8722;2</text>
<line x1="1123" y1="909.9" x2="1134.5" y2="909.9" stroke="#000" stroke-width="2.2"/>
<text x="1111.3" y="921.3" font-size="31.5" text-anchor="end">&#8722;1</text>
<line x1="1123" y1="836.2" x2="1134.5" y2="836.2" stroke="#000" stroke-width="2.2"/>
<text x="1111.3" y="847.6" font-size="31.5" text-anchor="end">0</text>
<line x1="1123" y1="762.6" x2="1134.5" y2="762.6" stroke="#000" stroke-width="2.2"/>
<text x="1111.3" y="774" font-size="31.5" text-anchor="end">1</text>
<line x1="1123" y1="688.9" x2="1134.5" y2="688.9" stroke="#000" stroke-width="2.2"/>
<text x="1111.3" y="700.3" font-size="31.5" text-anchor="end">2</text>
<line x1="1123" y1="615.2" x2="1134.5" y2="615.2" stroke="#000" stroke-width="2.2"/>
<text x="1111.3" y="626.6" font-size="31.5" text-anchor="end">3</text>
<line x1="1162.4" y1="1057.3" x2="1162.4" y2="1066.3" stroke="#000" stroke-width="2.2"/>
<text x="1162.4" y="1095.3" font-size="31.5" text-anchor="middle" textLength="77" lengthAdjust="spacingAndGlyphs">1950</text>
<line x1="1302" y1="1057.3" x2="1302" y2="1066.3" stroke="#000" stroke-width="2.2"/>
<text x="1302" y="1095.3" font-size="31.5" text-anchor="middle" textLength="77" lengthAdjust="spacingAndGlyphs">1960</text>
<line x1="1441.6" y1="1057.3" x2="1441.6" y2="1066.3" stroke="#000" stroke-width="2.2"/>
<text x="1441.6" y="1095.3" font-size="31.5" text-anchor="middle" textLength="77" lengthAdjust="spacingAndGlyphs">1970</text>
<line x1="1581.1" y1="1057.3" x2="1581.1" y2="1066.3" stroke="#000" stroke-width="2.2"/>
<text x="1581.1" y="1095.3" font-size="31.5" text-anchor="middle" textLength="77" lengthAdjust="spacingAndGlyphs">1980</text>
<line x1="1720.7" y1="1057.3" x2="1720.7" y2="1066.3" stroke="#000" stroke-width="2.2"/>
<text x="1720.7" y="1095.3" font-size="31.5" text-anchor="middle" textLength="77" lengthAdjust="spacingAndGlyphs">1990</text>
<line x1="1860.3" y1="1057.3" x2="1860.3" y2="1066.3" stroke="#000" stroke-width="2.2"/>
<text x="1860.3" y="1095.3" font-size="31.5" text-anchor="middle" textLength="77" lengthAdjust="spacingAndGlyphs">2000</text>
<line x1="1999.8" y1="1057.3" x2="1999.8" y2="1066.3" stroke="#000" stroke-width="2.2"/>
<text x="1999.8" y="1095.3" font-size="31.5" text-anchor="middle" textLength="77" lengthAdjust="spacingAndGlyphs">2010</text>
<text x="88.3" y="31.5" font-size="36.4" textLength="43" lengthAdjust="spacingAndGlyphs">a)</text>
<text x="167.8" y="31.5" font-size="36.4" textLength="133" lengthAdjust="spacingAndGlyphs">EASMI</text>
<text x="334.5" y="31.5" font-size="36.4" textLength="62" lengthAdjust="spacingAndGlyphs">vs.</text>
<text x="432.4" y="31.5" font-size="36.4" textLength="148" lengthAdjust="spacingAndGlyphs">ERSST</text>
<text x="1139.1" y="31.5" font-size="36.4" textLength="43" lengthAdjust="spacingAndGlyphs">b)</text>
<text x="1218.8" y="31.5" font-size="36.4" textLength="119" lengthAdjust="spacingAndGlyphs">IPODI</text>
<text x="1371.4" y="31.5" font-size="36.4" textLength="62" lengthAdjust="spacingAndGlyphs">vs.</text>
<text x="1469.2" y="31.5" font-size="36.4" textLength="148" lengthAdjust="spacingAndGlyphs">ERSST</text>
<text x="87.3" y="602.9" font-size="36.4" textLength="43" lengthAdjust="spacingAndGlyphs">c)</text>
<text x="166.1" y="602.9" font-size="36.4" textLength="133" lengthAdjust="spacingAndGlyphs">EASMI</text>
<text x="1139" y="602.9" font-size="36.4" textLength="43" lengthAdjust="spacingAndGlyphs">d)</text>
<text x="1219" y="602.9" font-size="36.4" textLength="119" lengthAdjust="spacingAndGlyphs">IPODI</text>
</svg>
</body></html>
